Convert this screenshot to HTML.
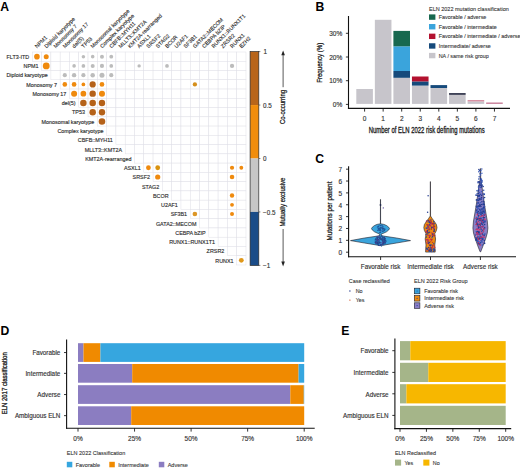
<!DOCTYPE html>
<html><head><meta charset="utf-8"><style>
html,body{margin:0;padding:0;background:#fff;}
body{width:520px;height:468px;overflow:hidden;}
svg{display:block;font-family:"Liberation Sans", sans-serif;}
</style></head><body>
<svg width="520" height="468" viewBox="0 0 520 468">
<rect width="520" height="468" fill="#fff"/>
<text x="0.20" y="10.60" font-size="12.2" text-anchor="start" font-weight="bold" fill="#000">A</text>
<text x="315.50" y="10.70" font-size="12.2" text-anchor="start" font-weight="bold" fill="#000">B</text>
<text x="315.20" y="162.50" font-size="12.2" text-anchor="start" font-weight="bold" fill="#000">C</text>
<text x="0.50" y="334.60" font-size="12.2" text-anchor="start" font-weight="bold" fill="#000">D</text>
<text x="341.30" y="334.80" font-size="12.2" text-anchor="start" font-weight="bold" fill="#000">E</text>
<rect x="32.30" y="52.00" width="9.29" height="9.26" fill="#fff" stroke="#e0e0e7" stroke-width="0.5"/>
<rect x="41.59" y="52.00" width="9.29" height="9.26" fill="#fff" stroke="#e0e0e7" stroke-width="0.5"/>
<rect x="50.88" y="52.00" width="9.29" height="9.26" fill="#fff" stroke="#e0e0e7" stroke-width="0.5"/>
<rect x="60.17" y="52.00" width="9.29" height="9.26" fill="#fff" stroke="#e0e0e7" stroke-width="0.5"/>
<rect x="69.46" y="52.00" width="9.29" height="9.26" fill="#fff" stroke="#e0e0e7" stroke-width="0.5"/>
<rect x="78.75" y="52.00" width="9.29" height="9.26" fill="#fff" stroke="#e0e0e7" stroke-width="0.5"/>
<rect x="88.04" y="52.00" width="9.29" height="9.26" fill="#fff" stroke="#e0e0e7" stroke-width="0.5"/>
<rect x="97.33" y="52.00" width="9.29" height="9.26" fill="#fff" stroke="#e0e0e7" stroke-width="0.5"/>
<rect x="106.62" y="52.00" width="9.29" height="9.26" fill="#fff" stroke="#e0e0e7" stroke-width="0.5"/>
<rect x="115.91" y="52.00" width="9.29" height="9.26" fill="#fff" stroke="#e0e0e7" stroke-width="0.5"/>
<rect x="125.20" y="52.00" width="9.29" height="9.26" fill="#fff" stroke="#e0e0e7" stroke-width="0.5"/>
<rect x="134.49" y="52.00" width="9.29" height="9.26" fill="#fff" stroke="#e0e0e7" stroke-width="0.5"/>
<rect x="143.78" y="52.00" width="9.29" height="9.26" fill="#fff" stroke="#e0e0e7" stroke-width="0.5"/>
<rect x="153.07" y="52.00" width="9.29" height="9.26" fill="#fff" stroke="#e0e0e7" stroke-width="0.5"/>
<rect x="162.36" y="52.00" width="9.29" height="9.26" fill="#fff" stroke="#e0e0e7" stroke-width="0.5"/>
<rect x="171.65" y="52.00" width="9.29" height="9.26" fill="#fff" stroke="#e0e0e7" stroke-width="0.5"/>
<rect x="180.94" y="52.00" width="9.29" height="9.26" fill="#fff" stroke="#e0e0e7" stroke-width="0.5"/>
<rect x="190.23" y="52.00" width="9.29" height="9.26" fill="#fff" stroke="#e0e0e7" stroke-width="0.5"/>
<rect x="199.52" y="52.00" width="9.29" height="9.26" fill="#fff" stroke="#e0e0e7" stroke-width="0.5"/>
<rect x="208.81" y="52.00" width="9.29" height="9.26" fill="#fff" stroke="#e0e0e7" stroke-width="0.5"/>
<rect x="218.10" y="52.00" width="9.29" height="9.26" fill="#fff" stroke="#e0e0e7" stroke-width="0.5"/>
<rect x="227.39" y="52.00" width="9.29" height="9.26" fill="#fff" stroke="#e0e0e7" stroke-width="0.5"/>
<rect x="236.68" y="52.00" width="9.29" height="9.26" fill="#fff" stroke="#e0e0e7" stroke-width="0.5"/>
<rect x="41.59" y="61.26" width="9.29" height="9.26" fill="#fff" stroke="#e0e0e7" stroke-width="0.5"/>
<rect x="50.88" y="61.26" width="9.29" height="9.26" fill="#fff" stroke="#e0e0e7" stroke-width="0.5"/>
<rect x="60.17" y="61.26" width="9.29" height="9.26" fill="#fff" stroke="#e0e0e7" stroke-width="0.5"/>
<rect x="69.46" y="61.26" width="9.29" height="9.26" fill="#fff" stroke="#e0e0e7" stroke-width="0.5"/>
<rect x="78.75" y="61.26" width="9.29" height="9.26" fill="#fff" stroke="#e0e0e7" stroke-width="0.5"/>
<rect x="88.04" y="61.26" width="9.29" height="9.26" fill="#fff" stroke="#e0e0e7" stroke-width="0.5"/>
<rect x="97.33" y="61.26" width="9.29" height="9.26" fill="#fff" stroke="#e0e0e7" stroke-width="0.5"/>
<rect x="106.62" y="61.26" width="9.29" height="9.26" fill="#fff" stroke="#e0e0e7" stroke-width="0.5"/>
<rect x="115.91" y="61.26" width="9.29" height="9.26" fill="#fff" stroke="#e0e0e7" stroke-width="0.5"/>
<rect x="125.20" y="61.26" width="9.29" height="9.26" fill="#fff" stroke="#e0e0e7" stroke-width="0.5"/>
<rect x="134.49" y="61.26" width="9.29" height="9.26" fill="#fff" stroke="#e0e0e7" stroke-width="0.5"/>
<rect x="143.78" y="61.26" width="9.29" height="9.26" fill="#fff" stroke="#e0e0e7" stroke-width="0.5"/>
<rect x="153.07" y="61.26" width="9.29" height="9.26" fill="#fff" stroke="#e0e0e7" stroke-width="0.5"/>
<rect x="162.36" y="61.26" width="9.29" height="9.26" fill="#fff" stroke="#e0e0e7" stroke-width="0.5"/>
<rect x="171.65" y="61.26" width="9.29" height="9.26" fill="#fff" stroke="#e0e0e7" stroke-width="0.5"/>
<rect x="180.94" y="61.26" width="9.29" height="9.26" fill="#fff" stroke="#e0e0e7" stroke-width="0.5"/>
<rect x="190.23" y="61.26" width="9.29" height="9.26" fill="#fff" stroke="#e0e0e7" stroke-width="0.5"/>
<rect x="199.52" y="61.26" width="9.29" height="9.26" fill="#fff" stroke="#e0e0e7" stroke-width="0.5"/>
<rect x="208.81" y="61.26" width="9.29" height="9.26" fill="#fff" stroke="#e0e0e7" stroke-width="0.5"/>
<rect x="218.10" y="61.26" width="9.29" height="9.26" fill="#fff" stroke="#e0e0e7" stroke-width="0.5"/>
<rect x="227.39" y="61.26" width="9.29" height="9.26" fill="#fff" stroke="#e0e0e7" stroke-width="0.5"/>
<rect x="236.68" y="61.26" width="9.29" height="9.26" fill="#fff" stroke="#e0e0e7" stroke-width="0.5"/>
<rect x="50.88" y="70.52" width="9.29" height="9.26" fill="#fff" stroke="#e0e0e7" stroke-width="0.5"/>
<rect x="60.17" y="70.52" width="9.29" height="9.26" fill="#fff" stroke="#e0e0e7" stroke-width="0.5"/>
<rect x="69.46" y="70.52" width="9.29" height="9.26" fill="#fff" stroke="#e0e0e7" stroke-width="0.5"/>
<rect x="78.75" y="70.52" width="9.29" height="9.26" fill="#fff" stroke="#e0e0e7" stroke-width="0.5"/>
<rect x="88.04" y="70.52" width="9.29" height="9.26" fill="#fff" stroke="#e0e0e7" stroke-width="0.5"/>
<rect x="97.33" y="70.52" width="9.29" height="9.26" fill="#fff" stroke="#e0e0e7" stroke-width="0.5"/>
<rect x="106.62" y="70.52" width="9.29" height="9.26" fill="#fff" stroke="#e0e0e7" stroke-width="0.5"/>
<rect x="115.91" y="70.52" width="9.29" height="9.26" fill="#fff" stroke="#e0e0e7" stroke-width="0.5"/>
<rect x="125.20" y="70.52" width="9.29" height="9.26" fill="#fff" stroke="#e0e0e7" stroke-width="0.5"/>
<rect x="134.49" y="70.52" width="9.29" height="9.26" fill="#fff" stroke="#e0e0e7" stroke-width="0.5"/>
<rect x="143.78" y="70.52" width="9.29" height="9.26" fill="#fff" stroke="#e0e0e7" stroke-width="0.5"/>
<rect x="153.07" y="70.52" width="9.29" height="9.26" fill="#fff" stroke="#e0e0e7" stroke-width="0.5"/>
<rect x="162.36" y="70.52" width="9.29" height="9.26" fill="#fff" stroke="#e0e0e7" stroke-width="0.5"/>
<rect x="171.65" y="70.52" width="9.29" height="9.26" fill="#fff" stroke="#e0e0e7" stroke-width="0.5"/>
<rect x="180.94" y="70.52" width="9.29" height="9.26" fill="#fff" stroke="#e0e0e7" stroke-width="0.5"/>
<rect x="190.23" y="70.52" width="9.29" height="9.26" fill="#fff" stroke="#e0e0e7" stroke-width="0.5"/>
<rect x="199.52" y="70.52" width="9.29" height="9.26" fill="#fff" stroke="#e0e0e7" stroke-width="0.5"/>
<rect x="208.81" y="70.52" width="9.29" height="9.26" fill="#fff" stroke="#e0e0e7" stroke-width="0.5"/>
<rect x="218.10" y="70.52" width="9.29" height="9.26" fill="#fff" stroke="#e0e0e7" stroke-width="0.5"/>
<rect x="227.39" y="70.52" width="9.29" height="9.26" fill="#fff" stroke="#e0e0e7" stroke-width="0.5"/>
<rect x="236.68" y="70.52" width="9.29" height="9.26" fill="#fff" stroke="#e0e0e7" stroke-width="0.5"/>
<rect x="60.17" y="79.78" width="9.29" height="9.26" fill="#fff" stroke="#e0e0e7" stroke-width="0.5"/>
<rect x="69.46" y="79.78" width="9.29" height="9.26" fill="#fff" stroke="#e0e0e7" stroke-width="0.5"/>
<rect x="78.75" y="79.78" width="9.29" height="9.26" fill="#fff" stroke="#e0e0e7" stroke-width="0.5"/>
<rect x="88.04" y="79.78" width="9.29" height="9.26" fill="#fff" stroke="#e0e0e7" stroke-width="0.5"/>
<rect x="97.33" y="79.78" width="9.29" height="9.26" fill="#fff" stroke="#e0e0e7" stroke-width="0.5"/>
<rect x="106.62" y="79.78" width="9.29" height="9.26" fill="#fff" stroke="#e0e0e7" stroke-width="0.5"/>
<rect x="115.91" y="79.78" width="9.29" height="9.26" fill="#fff" stroke="#e0e0e7" stroke-width="0.5"/>
<rect x="125.20" y="79.78" width="9.29" height="9.26" fill="#fff" stroke="#e0e0e7" stroke-width="0.5"/>
<rect x="134.49" y="79.78" width="9.29" height="9.26" fill="#fff" stroke="#e0e0e7" stroke-width="0.5"/>
<rect x="143.78" y="79.78" width="9.29" height="9.26" fill="#fff" stroke="#e0e0e7" stroke-width="0.5"/>
<rect x="153.07" y="79.78" width="9.29" height="9.26" fill="#fff" stroke="#e0e0e7" stroke-width="0.5"/>
<rect x="162.36" y="79.78" width="9.29" height="9.26" fill="#fff" stroke="#e0e0e7" stroke-width="0.5"/>
<rect x="171.65" y="79.78" width="9.29" height="9.26" fill="#fff" stroke="#e0e0e7" stroke-width="0.5"/>
<rect x="180.94" y="79.78" width="9.29" height="9.26" fill="#fff" stroke="#e0e0e7" stroke-width="0.5"/>
<rect x="190.23" y="79.78" width="9.29" height="9.26" fill="#fff" stroke="#e0e0e7" stroke-width="0.5"/>
<rect x="199.52" y="79.78" width="9.29" height="9.26" fill="#fff" stroke="#e0e0e7" stroke-width="0.5"/>
<rect x="208.81" y="79.78" width="9.29" height="9.26" fill="#fff" stroke="#e0e0e7" stroke-width="0.5"/>
<rect x="218.10" y="79.78" width="9.29" height="9.26" fill="#fff" stroke="#e0e0e7" stroke-width="0.5"/>
<rect x="227.39" y="79.78" width="9.29" height="9.26" fill="#fff" stroke="#e0e0e7" stroke-width="0.5"/>
<rect x="236.68" y="79.78" width="9.29" height="9.26" fill="#fff" stroke="#e0e0e7" stroke-width="0.5"/>
<rect x="69.46" y="89.04" width="9.29" height="9.26" fill="#fff" stroke="#e0e0e7" stroke-width="0.5"/>
<rect x="78.75" y="89.04" width="9.29" height="9.26" fill="#fff" stroke="#e0e0e7" stroke-width="0.5"/>
<rect x="88.04" y="89.04" width="9.29" height="9.26" fill="#fff" stroke="#e0e0e7" stroke-width="0.5"/>
<rect x="97.33" y="89.04" width="9.29" height="9.26" fill="#fff" stroke="#e0e0e7" stroke-width="0.5"/>
<rect x="106.62" y="89.04" width="9.29" height="9.26" fill="#fff" stroke="#e0e0e7" stroke-width="0.5"/>
<rect x="115.91" y="89.04" width="9.29" height="9.26" fill="#fff" stroke="#e0e0e7" stroke-width="0.5"/>
<rect x="125.20" y="89.04" width="9.29" height="9.26" fill="#fff" stroke="#e0e0e7" stroke-width="0.5"/>
<rect x="134.49" y="89.04" width="9.29" height="9.26" fill="#fff" stroke="#e0e0e7" stroke-width="0.5"/>
<rect x="143.78" y="89.04" width="9.29" height="9.26" fill="#fff" stroke="#e0e0e7" stroke-width="0.5"/>
<rect x="153.07" y="89.04" width="9.29" height="9.26" fill="#fff" stroke="#e0e0e7" stroke-width="0.5"/>
<rect x="162.36" y="89.04" width="9.29" height="9.26" fill="#fff" stroke="#e0e0e7" stroke-width="0.5"/>
<rect x="171.65" y="89.04" width="9.29" height="9.26" fill="#fff" stroke="#e0e0e7" stroke-width="0.5"/>
<rect x="180.94" y="89.04" width="9.29" height="9.26" fill="#fff" stroke="#e0e0e7" stroke-width="0.5"/>
<rect x="190.23" y="89.04" width="9.29" height="9.26" fill="#fff" stroke="#e0e0e7" stroke-width="0.5"/>
<rect x="199.52" y="89.04" width="9.29" height="9.26" fill="#fff" stroke="#e0e0e7" stroke-width="0.5"/>
<rect x="208.81" y="89.04" width="9.29" height="9.26" fill="#fff" stroke="#e0e0e7" stroke-width="0.5"/>
<rect x="218.10" y="89.04" width="9.29" height="9.26" fill="#fff" stroke="#e0e0e7" stroke-width="0.5"/>
<rect x="227.39" y="89.04" width="9.29" height="9.26" fill="#fff" stroke="#e0e0e7" stroke-width="0.5"/>
<rect x="236.68" y="89.04" width="9.29" height="9.26" fill="#fff" stroke="#e0e0e7" stroke-width="0.5"/>
<rect x="78.75" y="98.30" width="9.29" height="9.26" fill="#fff" stroke="#e0e0e7" stroke-width="0.5"/>
<rect x="88.04" y="98.30" width="9.29" height="9.26" fill="#fff" stroke="#e0e0e7" stroke-width="0.5"/>
<rect x="97.33" y="98.30" width="9.29" height="9.26" fill="#fff" stroke="#e0e0e7" stroke-width="0.5"/>
<rect x="106.62" y="98.30" width="9.29" height="9.26" fill="#fff" stroke="#e0e0e7" stroke-width="0.5"/>
<rect x="115.91" y="98.30" width="9.29" height="9.26" fill="#fff" stroke="#e0e0e7" stroke-width="0.5"/>
<rect x="125.20" y="98.30" width="9.29" height="9.26" fill="#fff" stroke="#e0e0e7" stroke-width="0.5"/>
<rect x="134.49" y="98.30" width="9.29" height="9.26" fill="#fff" stroke="#e0e0e7" stroke-width="0.5"/>
<rect x="143.78" y="98.30" width="9.29" height="9.26" fill="#fff" stroke="#e0e0e7" stroke-width="0.5"/>
<rect x="153.07" y="98.30" width="9.29" height="9.26" fill="#fff" stroke="#e0e0e7" stroke-width="0.5"/>
<rect x="162.36" y="98.30" width="9.29" height="9.26" fill="#fff" stroke="#e0e0e7" stroke-width="0.5"/>
<rect x="171.65" y="98.30" width="9.29" height="9.26" fill="#fff" stroke="#e0e0e7" stroke-width="0.5"/>
<rect x="180.94" y="98.30" width="9.29" height="9.26" fill="#fff" stroke="#e0e0e7" stroke-width="0.5"/>
<rect x="190.23" y="98.30" width="9.29" height="9.26" fill="#fff" stroke="#e0e0e7" stroke-width="0.5"/>
<rect x="199.52" y="98.30" width="9.29" height="9.26" fill="#fff" stroke="#e0e0e7" stroke-width="0.5"/>
<rect x="208.81" y="98.30" width="9.29" height="9.26" fill="#fff" stroke="#e0e0e7" stroke-width="0.5"/>
<rect x="218.10" y="98.30" width="9.29" height="9.26" fill="#fff" stroke="#e0e0e7" stroke-width="0.5"/>
<rect x="227.39" y="98.30" width="9.29" height="9.26" fill="#fff" stroke="#e0e0e7" stroke-width="0.5"/>
<rect x="236.68" y="98.30" width="9.29" height="9.26" fill="#fff" stroke="#e0e0e7" stroke-width="0.5"/>
<rect x="88.04" y="107.56" width="9.29" height="9.26" fill="#fff" stroke="#e0e0e7" stroke-width="0.5"/>
<rect x="97.33" y="107.56" width="9.29" height="9.26" fill="#fff" stroke="#e0e0e7" stroke-width="0.5"/>
<rect x="106.62" y="107.56" width="9.29" height="9.26" fill="#fff" stroke="#e0e0e7" stroke-width="0.5"/>
<rect x="115.91" y="107.56" width="9.29" height="9.26" fill="#fff" stroke="#e0e0e7" stroke-width="0.5"/>
<rect x="125.20" y="107.56" width="9.29" height="9.26" fill="#fff" stroke="#e0e0e7" stroke-width="0.5"/>
<rect x="134.49" y="107.56" width="9.29" height="9.26" fill="#fff" stroke="#e0e0e7" stroke-width="0.5"/>
<rect x="143.78" y="107.56" width="9.29" height="9.26" fill="#fff" stroke="#e0e0e7" stroke-width="0.5"/>
<rect x="153.07" y="107.56" width="9.29" height="9.26" fill="#fff" stroke="#e0e0e7" stroke-width="0.5"/>
<rect x="162.36" y="107.56" width="9.29" height="9.26" fill="#fff" stroke="#e0e0e7" stroke-width="0.5"/>
<rect x="171.65" y="107.56" width="9.29" height="9.26" fill="#fff" stroke="#e0e0e7" stroke-width="0.5"/>
<rect x="180.94" y="107.56" width="9.29" height="9.26" fill="#fff" stroke="#e0e0e7" stroke-width="0.5"/>
<rect x="190.23" y="107.56" width="9.29" height="9.26" fill="#fff" stroke="#e0e0e7" stroke-width="0.5"/>
<rect x="199.52" y="107.56" width="9.29" height="9.26" fill="#fff" stroke="#e0e0e7" stroke-width="0.5"/>
<rect x="208.81" y="107.56" width="9.29" height="9.26" fill="#fff" stroke="#e0e0e7" stroke-width="0.5"/>
<rect x="218.10" y="107.56" width="9.29" height="9.26" fill="#fff" stroke="#e0e0e7" stroke-width="0.5"/>
<rect x="227.39" y="107.56" width="9.29" height="9.26" fill="#fff" stroke="#e0e0e7" stroke-width="0.5"/>
<rect x="236.68" y="107.56" width="9.29" height="9.26" fill="#fff" stroke="#e0e0e7" stroke-width="0.5"/>
<rect x="97.33" y="116.82" width="9.29" height="9.26" fill="#fff" stroke="#e0e0e7" stroke-width="0.5"/>
<rect x="106.62" y="116.82" width="9.29" height="9.26" fill="#fff" stroke="#e0e0e7" stroke-width="0.5"/>
<rect x="115.91" y="116.82" width="9.29" height="9.26" fill="#fff" stroke="#e0e0e7" stroke-width="0.5"/>
<rect x="125.20" y="116.82" width="9.29" height="9.26" fill="#fff" stroke="#e0e0e7" stroke-width="0.5"/>
<rect x="134.49" y="116.82" width="9.29" height="9.26" fill="#fff" stroke="#e0e0e7" stroke-width="0.5"/>
<rect x="143.78" y="116.82" width="9.29" height="9.26" fill="#fff" stroke="#e0e0e7" stroke-width="0.5"/>
<rect x="153.07" y="116.82" width="9.29" height="9.26" fill="#fff" stroke="#e0e0e7" stroke-width="0.5"/>
<rect x="162.36" y="116.82" width="9.29" height="9.26" fill="#fff" stroke="#e0e0e7" stroke-width="0.5"/>
<rect x="171.65" y="116.82" width="9.29" height="9.26" fill="#fff" stroke="#e0e0e7" stroke-width="0.5"/>
<rect x="180.94" y="116.82" width="9.29" height="9.26" fill="#fff" stroke="#e0e0e7" stroke-width="0.5"/>
<rect x="190.23" y="116.82" width="9.29" height="9.26" fill="#fff" stroke="#e0e0e7" stroke-width="0.5"/>
<rect x="199.52" y="116.82" width="9.29" height="9.26" fill="#fff" stroke="#e0e0e7" stroke-width="0.5"/>
<rect x="208.81" y="116.82" width="9.29" height="9.26" fill="#fff" stroke="#e0e0e7" stroke-width="0.5"/>
<rect x="218.10" y="116.82" width="9.29" height="9.26" fill="#fff" stroke="#e0e0e7" stroke-width="0.5"/>
<rect x="227.39" y="116.82" width="9.29" height="9.26" fill="#fff" stroke="#e0e0e7" stroke-width="0.5"/>
<rect x="236.68" y="116.82" width="9.29" height="9.26" fill="#fff" stroke="#e0e0e7" stroke-width="0.5"/>
<rect x="106.62" y="126.08" width="9.29" height="9.26" fill="#fff" stroke="#e0e0e7" stroke-width="0.5"/>
<rect x="115.91" y="126.08" width="9.29" height="9.26" fill="#fff" stroke="#e0e0e7" stroke-width="0.5"/>
<rect x="125.20" y="126.08" width="9.29" height="9.26" fill="#fff" stroke="#e0e0e7" stroke-width="0.5"/>
<rect x="134.49" y="126.08" width="9.29" height="9.26" fill="#fff" stroke="#e0e0e7" stroke-width="0.5"/>
<rect x="143.78" y="126.08" width="9.29" height="9.26" fill="#fff" stroke="#e0e0e7" stroke-width="0.5"/>
<rect x="153.07" y="126.08" width="9.29" height="9.26" fill="#fff" stroke="#e0e0e7" stroke-width="0.5"/>
<rect x="162.36" y="126.08" width="9.29" height="9.26" fill="#fff" stroke="#e0e0e7" stroke-width="0.5"/>
<rect x="171.65" y="126.08" width="9.29" height="9.26" fill="#fff" stroke="#e0e0e7" stroke-width="0.5"/>
<rect x="180.94" y="126.08" width="9.29" height="9.26" fill="#fff" stroke="#e0e0e7" stroke-width="0.5"/>
<rect x="190.23" y="126.08" width="9.29" height="9.26" fill="#fff" stroke="#e0e0e7" stroke-width="0.5"/>
<rect x="199.52" y="126.08" width="9.29" height="9.26" fill="#fff" stroke="#e0e0e7" stroke-width="0.5"/>
<rect x="208.81" y="126.08" width="9.29" height="9.26" fill="#fff" stroke="#e0e0e7" stroke-width="0.5"/>
<rect x="218.10" y="126.08" width="9.29" height="9.26" fill="#fff" stroke="#e0e0e7" stroke-width="0.5"/>
<rect x="227.39" y="126.08" width="9.29" height="9.26" fill="#fff" stroke="#e0e0e7" stroke-width="0.5"/>
<rect x="236.68" y="126.08" width="9.29" height="9.26" fill="#fff" stroke="#e0e0e7" stroke-width="0.5"/>
<rect x="115.91" y="135.34" width="9.29" height="9.26" fill="#fff" stroke="#e0e0e7" stroke-width="0.5"/>
<rect x="125.20" y="135.34" width="9.29" height="9.26" fill="#fff" stroke="#e0e0e7" stroke-width="0.5"/>
<rect x="134.49" y="135.34" width="9.29" height="9.26" fill="#fff" stroke="#e0e0e7" stroke-width="0.5"/>
<rect x="143.78" y="135.34" width="9.29" height="9.26" fill="#fff" stroke="#e0e0e7" stroke-width="0.5"/>
<rect x="153.07" y="135.34" width="9.29" height="9.26" fill="#fff" stroke="#e0e0e7" stroke-width="0.5"/>
<rect x="162.36" y="135.34" width="9.29" height="9.26" fill="#fff" stroke="#e0e0e7" stroke-width="0.5"/>
<rect x="171.65" y="135.34" width="9.29" height="9.26" fill="#fff" stroke="#e0e0e7" stroke-width="0.5"/>
<rect x="180.94" y="135.34" width="9.29" height="9.26" fill="#fff" stroke="#e0e0e7" stroke-width="0.5"/>
<rect x="190.23" y="135.34" width="9.29" height="9.26" fill="#fff" stroke="#e0e0e7" stroke-width="0.5"/>
<rect x="199.52" y="135.34" width="9.29" height="9.26" fill="#fff" stroke="#e0e0e7" stroke-width="0.5"/>
<rect x="208.81" y="135.34" width="9.29" height="9.26" fill="#fff" stroke="#e0e0e7" stroke-width="0.5"/>
<rect x="218.10" y="135.34" width="9.29" height="9.26" fill="#fff" stroke="#e0e0e7" stroke-width="0.5"/>
<rect x="227.39" y="135.34" width="9.29" height="9.26" fill="#fff" stroke="#e0e0e7" stroke-width="0.5"/>
<rect x="236.68" y="135.34" width="9.29" height="9.26" fill="#fff" stroke="#e0e0e7" stroke-width="0.5"/>
<rect x="125.20" y="144.60" width="9.29" height="9.26" fill="#fff" stroke="#e0e0e7" stroke-width="0.5"/>
<rect x="134.49" y="144.60" width="9.29" height="9.26" fill="#fff" stroke="#e0e0e7" stroke-width="0.5"/>
<rect x="143.78" y="144.60" width="9.29" height="9.26" fill="#fff" stroke="#e0e0e7" stroke-width="0.5"/>
<rect x="153.07" y="144.60" width="9.29" height="9.26" fill="#fff" stroke="#e0e0e7" stroke-width="0.5"/>
<rect x="162.36" y="144.60" width="9.29" height="9.26" fill="#fff" stroke="#e0e0e7" stroke-width="0.5"/>
<rect x="171.65" y="144.60" width="9.29" height="9.26" fill="#fff" stroke="#e0e0e7" stroke-width="0.5"/>
<rect x="180.94" y="144.60" width="9.29" height="9.26" fill="#fff" stroke="#e0e0e7" stroke-width="0.5"/>
<rect x="190.23" y="144.60" width="9.29" height="9.26" fill="#fff" stroke="#e0e0e7" stroke-width="0.5"/>
<rect x="199.52" y="144.60" width="9.29" height="9.26" fill="#fff" stroke="#e0e0e7" stroke-width="0.5"/>
<rect x="208.81" y="144.60" width="9.29" height="9.26" fill="#fff" stroke="#e0e0e7" stroke-width="0.5"/>
<rect x="218.10" y="144.60" width="9.29" height="9.26" fill="#fff" stroke="#e0e0e7" stroke-width="0.5"/>
<rect x="227.39" y="144.60" width="9.29" height="9.26" fill="#fff" stroke="#e0e0e7" stroke-width="0.5"/>
<rect x="236.68" y="144.60" width="9.29" height="9.26" fill="#fff" stroke="#e0e0e7" stroke-width="0.5"/>
<rect x="134.49" y="153.86" width="9.29" height="9.26" fill="#fff" stroke="#e0e0e7" stroke-width="0.5"/>
<rect x="143.78" y="153.86" width="9.29" height="9.26" fill="#fff" stroke="#e0e0e7" stroke-width="0.5"/>
<rect x="153.07" y="153.86" width="9.29" height="9.26" fill="#fff" stroke="#e0e0e7" stroke-width="0.5"/>
<rect x="162.36" y="153.86" width="9.29" height="9.26" fill="#fff" stroke="#e0e0e7" stroke-width="0.5"/>
<rect x="171.65" y="153.86" width="9.29" height="9.26" fill="#fff" stroke="#e0e0e7" stroke-width="0.5"/>
<rect x="180.94" y="153.86" width="9.29" height="9.26" fill="#fff" stroke="#e0e0e7" stroke-width="0.5"/>
<rect x="190.23" y="153.86" width="9.29" height="9.26" fill="#fff" stroke="#e0e0e7" stroke-width="0.5"/>
<rect x="199.52" y="153.86" width="9.29" height="9.26" fill="#fff" stroke="#e0e0e7" stroke-width="0.5"/>
<rect x="208.81" y="153.86" width="9.29" height="9.26" fill="#fff" stroke="#e0e0e7" stroke-width="0.5"/>
<rect x="218.10" y="153.86" width="9.29" height="9.26" fill="#fff" stroke="#e0e0e7" stroke-width="0.5"/>
<rect x="227.39" y="153.86" width="9.29" height="9.26" fill="#fff" stroke="#e0e0e7" stroke-width="0.5"/>
<rect x="236.68" y="153.86" width="9.29" height="9.26" fill="#fff" stroke="#e0e0e7" stroke-width="0.5"/>
<rect x="143.78" y="163.12" width="9.29" height="9.26" fill="#fff" stroke="#e0e0e7" stroke-width="0.5"/>
<rect x="153.07" y="163.12" width="9.29" height="9.26" fill="#fff" stroke="#e0e0e7" stroke-width="0.5"/>
<rect x="162.36" y="163.12" width="9.29" height="9.26" fill="#fff" stroke="#e0e0e7" stroke-width="0.5"/>
<rect x="171.65" y="163.12" width="9.29" height="9.26" fill="#fff" stroke="#e0e0e7" stroke-width="0.5"/>
<rect x="180.94" y="163.12" width="9.29" height="9.26" fill="#fff" stroke="#e0e0e7" stroke-width="0.5"/>
<rect x="190.23" y="163.12" width="9.29" height="9.26" fill="#fff" stroke="#e0e0e7" stroke-width="0.5"/>
<rect x="199.52" y="163.12" width="9.29" height="9.26" fill="#fff" stroke="#e0e0e7" stroke-width="0.5"/>
<rect x="208.81" y="163.12" width="9.29" height="9.26" fill="#fff" stroke="#e0e0e7" stroke-width="0.5"/>
<rect x="218.10" y="163.12" width="9.29" height="9.26" fill="#fff" stroke="#e0e0e7" stroke-width="0.5"/>
<rect x="227.39" y="163.12" width="9.29" height="9.26" fill="#fff" stroke="#e0e0e7" stroke-width="0.5"/>
<rect x="236.68" y="163.12" width="9.29" height="9.26" fill="#fff" stroke="#e0e0e7" stroke-width="0.5"/>
<rect x="153.07" y="172.38" width="9.29" height="9.26" fill="#fff" stroke="#e0e0e7" stroke-width="0.5"/>
<rect x="162.36" y="172.38" width="9.29" height="9.26" fill="#fff" stroke="#e0e0e7" stroke-width="0.5"/>
<rect x="171.65" y="172.38" width="9.29" height="9.26" fill="#fff" stroke="#e0e0e7" stroke-width="0.5"/>
<rect x="180.94" y="172.38" width="9.29" height="9.26" fill="#fff" stroke="#e0e0e7" stroke-width="0.5"/>
<rect x="190.23" y="172.38" width="9.29" height="9.26" fill="#fff" stroke="#e0e0e7" stroke-width="0.5"/>
<rect x="199.52" y="172.38" width="9.29" height="9.26" fill="#fff" stroke="#e0e0e7" stroke-width="0.5"/>
<rect x="208.81" y="172.38" width="9.29" height="9.26" fill="#fff" stroke="#e0e0e7" stroke-width="0.5"/>
<rect x="218.10" y="172.38" width="9.29" height="9.26" fill="#fff" stroke="#e0e0e7" stroke-width="0.5"/>
<rect x="227.39" y="172.38" width="9.29" height="9.26" fill="#fff" stroke="#e0e0e7" stroke-width="0.5"/>
<rect x="236.68" y="172.38" width="9.29" height="9.26" fill="#fff" stroke="#e0e0e7" stroke-width="0.5"/>
<rect x="162.36" y="181.64" width="9.29" height="9.26" fill="#fff" stroke="#e0e0e7" stroke-width="0.5"/>
<rect x="171.65" y="181.64" width="9.29" height="9.26" fill="#fff" stroke="#e0e0e7" stroke-width="0.5"/>
<rect x="180.94" y="181.64" width="9.29" height="9.26" fill="#fff" stroke="#e0e0e7" stroke-width="0.5"/>
<rect x="190.23" y="181.64" width="9.29" height="9.26" fill="#fff" stroke="#e0e0e7" stroke-width="0.5"/>
<rect x="199.52" y="181.64" width="9.29" height="9.26" fill="#fff" stroke="#e0e0e7" stroke-width="0.5"/>
<rect x="208.81" y="181.64" width="9.29" height="9.26" fill="#fff" stroke="#e0e0e7" stroke-width="0.5"/>
<rect x="218.10" y="181.64" width="9.29" height="9.26" fill="#fff" stroke="#e0e0e7" stroke-width="0.5"/>
<rect x="227.39" y="181.64" width="9.29" height="9.26" fill="#fff" stroke="#e0e0e7" stroke-width="0.5"/>
<rect x="236.68" y="181.64" width="9.29" height="9.26" fill="#fff" stroke="#e0e0e7" stroke-width="0.5"/>
<rect x="171.65" y="190.90" width="9.29" height="9.26" fill="#fff" stroke="#e0e0e7" stroke-width="0.5"/>
<rect x="180.94" y="190.90" width="9.29" height="9.26" fill="#fff" stroke="#e0e0e7" stroke-width="0.5"/>
<rect x="190.23" y="190.90" width="9.29" height="9.26" fill="#fff" stroke="#e0e0e7" stroke-width="0.5"/>
<rect x="199.52" y="190.90" width="9.29" height="9.26" fill="#fff" stroke="#e0e0e7" stroke-width="0.5"/>
<rect x="208.81" y="190.90" width="9.29" height="9.26" fill="#fff" stroke="#e0e0e7" stroke-width="0.5"/>
<rect x="218.10" y="190.90" width="9.29" height="9.26" fill="#fff" stroke="#e0e0e7" stroke-width="0.5"/>
<rect x="227.39" y="190.90" width="9.29" height="9.26" fill="#fff" stroke="#e0e0e7" stroke-width="0.5"/>
<rect x="236.68" y="190.90" width="9.29" height="9.26" fill="#fff" stroke="#e0e0e7" stroke-width="0.5"/>
<rect x="180.94" y="200.16" width="9.29" height="9.26" fill="#fff" stroke="#e0e0e7" stroke-width="0.5"/>
<rect x="190.23" y="200.16" width="9.29" height="9.26" fill="#fff" stroke="#e0e0e7" stroke-width="0.5"/>
<rect x="199.52" y="200.16" width="9.29" height="9.26" fill="#fff" stroke="#e0e0e7" stroke-width="0.5"/>
<rect x="208.81" y="200.16" width="9.29" height="9.26" fill="#fff" stroke="#e0e0e7" stroke-width="0.5"/>
<rect x="218.10" y="200.16" width="9.29" height="9.26" fill="#fff" stroke="#e0e0e7" stroke-width="0.5"/>
<rect x="227.39" y="200.16" width="9.29" height="9.26" fill="#fff" stroke="#e0e0e7" stroke-width="0.5"/>
<rect x="236.68" y="200.16" width="9.29" height="9.26" fill="#fff" stroke="#e0e0e7" stroke-width="0.5"/>
<rect x="190.23" y="209.42" width="9.29" height="9.26" fill="#fff" stroke="#e0e0e7" stroke-width="0.5"/>
<rect x="199.52" y="209.42" width="9.29" height="9.26" fill="#fff" stroke="#e0e0e7" stroke-width="0.5"/>
<rect x="208.81" y="209.42" width="9.29" height="9.26" fill="#fff" stroke="#e0e0e7" stroke-width="0.5"/>
<rect x="218.10" y="209.42" width="9.29" height="9.26" fill="#fff" stroke="#e0e0e7" stroke-width="0.5"/>
<rect x="227.39" y="209.42" width="9.29" height="9.26" fill="#fff" stroke="#e0e0e7" stroke-width="0.5"/>
<rect x="236.68" y="209.42" width="9.29" height="9.26" fill="#fff" stroke="#e0e0e7" stroke-width="0.5"/>
<rect x="199.52" y="218.68" width="9.29" height="9.26" fill="#fff" stroke="#e0e0e7" stroke-width="0.5"/>
<rect x="208.81" y="218.68" width="9.29" height="9.26" fill="#fff" stroke="#e0e0e7" stroke-width="0.5"/>
<rect x="218.10" y="218.68" width="9.29" height="9.26" fill="#fff" stroke="#e0e0e7" stroke-width="0.5"/>
<rect x="227.39" y="218.68" width="9.29" height="9.26" fill="#fff" stroke="#e0e0e7" stroke-width="0.5"/>
<rect x="236.68" y="218.68" width="9.29" height="9.26" fill="#fff" stroke="#e0e0e7" stroke-width="0.5"/>
<rect x="208.81" y="227.94" width="9.29" height="9.26" fill="#fff" stroke="#e0e0e7" stroke-width="0.5"/>
<rect x="218.10" y="227.94" width="9.29" height="9.26" fill="#fff" stroke="#e0e0e7" stroke-width="0.5"/>
<rect x="227.39" y="227.94" width="9.29" height="9.26" fill="#fff" stroke="#e0e0e7" stroke-width="0.5"/>
<rect x="236.68" y="227.94" width="9.29" height="9.26" fill="#fff" stroke="#e0e0e7" stroke-width="0.5"/>
<rect x="218.10" y="237.20" width="9.29" height="9.26" fill="#fff" stroke="#e0e0e7" stroke-width="0.5"/>
<rect x="227.39" y="237.20" width="9.29" height="9.26" fill="#fff" stroke="#e0e0e7" stroke-width="0.5"/>
<rect x="236.68" y="237.20" width="9.29" height="9.26" fill="#fff" stroke="#e0e0e7" stroke-width="0.5"/>
<rect x="227.39" y="246.46" width="9.29" height="9.26" fill="#fff" stroke="#e0e0e7" stroke-width="0.5"/>
<rect x="236.68" y="246.46" width="9.29" height="9.26" fill="#fff" stroke="#e0e0e7" stroke-width="0.5"/>
<rect x="236.68" y="255.72" width="9.29" height="9.26" fill="#fff" stroke="#e0e0e7" stroke-width="0.5"/>
<text x="29.20" y="56.93" font-size="5.4" text-anchor="end" font-weight="normal" fill="#2e2e2e" stroke="#2e2e2e" stroke-width="0.14" dominant-baseline="central">FLT3-ITD</text>
<text x="38.49" y="66.19" font-size="5.4" text-anchor="end" font-weight="normal" fill="#2e2e2e" stroke="#2e2e2e" stroke-width="0.14" dominant-baseline="central">NPM1</text>
<text x="47.78" y="75.45" font-size="5.4" text-anchor="end" font-weight="normal" fill="#2e2e2e" stroke="#2e2e2e" stroke-width="0.14" dominant-baseline="central">Diploid karyotype</text>
<text x="57.07" y="84.71" font-size="5.4" text-anchor="end" font-weight="normal" fill="#2e2e2e" stroke="#2e2e2e" stroke-width="0.14" dominant-baseline="central">Monosomy 7</text>
<text x="66.36" y="93.97" font-size="5.4" text-anchor="end" font-weight="normal" fill="#2e2e2e" stroke="#2e2e2e" stroke-width="0.14" dominant-baseline="central">Monosomy 17</text>
<text x="75.65" y="103.23" font-size="5.4" text-anchor="end" font-weight="normal" fill="#2e2e2e" stroke="#2e2e2e" stroke-width="0.14" dominant-baseline="central">del(5)</text>
<text x="84.94" y="112.49" font-size="5.4" text-anchor="end" font-weight="normal" fill="#2e2e2e" stroke="#2e2e2e" stroke-width="0.14" dominant-baseline="central">TP53</text>
<text x="94.23" y="121.75" font-size="5.4" text-anchor="end" font-weight="normal" fill="#2e2e2e" stroke="#2e2e2e" stroke-width="0.14" dominant-baseline="central">Monosomal karyotype</text>
<text x="103.52" y="131.01" font-size="5.4" text-anchor="end" font-weight="normal" fill="#2e2e2e" stroke="#2e2e2e" stroke-width="0.14" dominant-baseline="central">Complex karyotype</text>
<text x="112.81" y="140.27" font-size="5.4" text-anchor="end" font-weight="normal" fill="#2e2e2e" stroke="#2e2e2e" stroke-width="0.14" dominant-baseline="central">CBFB::MYH11</text>
<text x="122.10" y="149.53" font-size="5.4" text-anchor="end" font-weight="normal" fill="#2e2e2e" stroke="#2e2e2e" stroke-width="0.14" dominant-baseline="central">MLLT3::KMT2A</text>
<text x="131.39" y="158.79" font-size="5.4" text-anchor="end" font-weight="normal" fill="#2e2e2e" stroke="#2e2e2e" stroke-width="0.14" dominant-baseline="central">KMT2A-rearranged</text>
<text x="140.68" y="168.05" font-size="5.4" text-anchor="end" font-weight="normal" fill="#2e2e2e" stroke="#2e2e2e" stroke-width="0.14" dominant-baseline="central">ASXL1</text>
<text x="149.97" y="177.31" font-size="5.4" text-anchor="end" font-weight="normal" fill="#2e2e2e" stroke="#2e2e2e" stroke-width="0.14" dominant-baseline="central">SRSF2</text>
<text x="159.26" y="186.57" font-size="5.4" text-anchor="end" font-weight="normal" fill="#2e2e2e" stroke="#2e2e2e" stroke-width="0.14" dominant-baseline="central">STAG2</text>
<text x="168.55" y="195.83" font-size="5.4" text-anchor="end" font-weight="normal" fill="#2e2e2e" stroke="#2e2e2e" stroke-width="0.14" dominant-baseline="central">BCOR</text>
<text x="177.84" y="205.09" font-size="5.4" text-anchor="end" font-weight="normal" fill="#2e2e2e" stroke="#2e2e2e" stroke-width="0.14" dominant-baseline="central">U2AF1</text>
<text x="187.13" y="214.35" font-size="5.4" text-anchor="end" font-weight="normal" fill="#2e2e2e" stroke="#2e2e2e" stroke-width="0.14" dominant-baseline="central">SF3B1</text>
<text x="196.42" y="223.61" font-size="5.4" text-anchor="end" font-weight="normal" fill="#2e2e2e" stroke="#2e2e2e" stroke-width="0.14" dominant-baseline="central">GATA2::MECOM</text>
<text x="205.71" y="232.87" font-size="5.4" text-anchor="end" font-weight="normal" fill="#2e2e2e" stroke="#2e2e2e" stroke-width="0.14" dominant-baseline="central">CEBPA bZIP</text>
<text x="215.00" y="242.13" font-size="5.4" text-anchor="end" font-weight="normal" fill="#2e2e2e" stroke="#2e2e2e" stroke-width="0.14" dominant-baseline="central">RUNX1::RUNX1T1</text>
<text x="224.29" y="251.39" font-size="5.4" text-anchor="end" font-weight="normal" fill="#2e2e2e" stroke="#2e2e2e" stroke-width="0.14" dominant-baseline="central">ZRSR2</text>
<text x="233.58" y="260.65" font-size="5.4" text-anchor="end" font-weight="normal" fill="#2e2e2e" stroke="#2e2e2e" stroke-width="0.14" dominant-baseline="central">RUNX1</text>
<text x="37.14" y="48.40" font-size="5.35" text-anchor="start" font-weight="normal" fill="#2e2e2e" stroke="#2e2e2e" stroke-width="0.14" transform="rotate(-45 37.14 48.40)">NPM1</text>
<text x="46.44" y="48.40" font-size="5.35" text-anchor="start" font-weight="normal" fill="#2e2e2e" stroke="#2e2e2e" stroke-width="0.14" transform="rotate(-45 46.44 48.40)">Diploid karyotype</text>
<text x="55.72" y="48.40" font-size="5.35" text-anchor="start" font-weight="normal" fill="#2e2e2e" stroke="#2e2e2e" stroke-width="0.14" transform="rotate(-45 55.72 48.40)">Monosomy 7</text>
<text x="65.02" y="48.40" font-size="5.35" text-anchor="start" font-weight="normal" fill="#2e2e2e" stroke="#2e2e2e" stroke-width="0.14" transform="rotate(-45 65.02 48.40)">Monosomy 17</text>
<text x="74.30" y="48.40" font-size="5.35" text-anchor="start" font-weight="normal" fill="#2e2e2e" stroke="#2e2e2e" stroke-width="0.14" transform="rotate(-45 74.30 48.40)">del(5)</text>
<text x="83.59" y="48.40" font-size="5.35" text-anchor="start" font-weight="normal" fill="#2e2e2e" stroke="#2e2e2e" stroke-width="0.14" transform="rotate(-45 83.59 48.40)">TP53</text>
<text x="92.88" y="48.40" font-size="5.35" text-anchor="start" font-weight="normal" fill="#2e2e2e" stroke="#2e2e2e" stroke-width="0.14" transform="rotate(-45 92.88 48.40)">Monosomal karyotype</text>
<text x="102.17" y="48.40" font-size="5.35" text-anchor="start" font-weight="normal" fill="#2e2e2e" stroke="#2e2e2e" stroke-width="0.14" transform="rotate(-45 102.17 48.40)">Complex karyotype</text>
<text x="111.46" y="48.40" font-size="5.35" text-anchor="start" font-weight="normal" fill="#2e2e2e" stroke="#2e2e2e" stroke-width="0.14" transform="rotate(-45 111.46 48.40)">CBFB::MYH11</text>
<text x="120.75" y="48.40" font-size="5.35" text-anchor="start" font-weight="normal" fill="#2e2e2e" stroke="#2e2e2e" stroke-width="0.14" transform="rotate(-45 120.75 48.40)">MLLT3::KMT2A</text>
<text x="130.04" y="48.40" font-size="5.35" text-anchor="start" font-weight="normal" fill="#2e2e2e" stroke="#2e2e2e" stroke-width="0.14" transform="rotate(-45 130.04 48.40)">KMT2A-rearranged</text>
<text x="139.33" y="48.40" font-size="5.35" text-anchor="start" font-weight="normal" fill="#2e2e2e" stroke="#2e2e2e" stroke-width="0.14" transform="rotate(-45 139.33 48.40)">ASXL1</text>
<text x="148.62" y="48.40" font-size="5.35" text-anchor="start" font-weight="normal" fill="#2e2e2e" stroke="#2e2e2e" stroke-width="0.14" transform="rotate(-45 148.62 48.40)">SRSF2</text>
<text x="157.91" y="48.40" font-size="5.35" text-anchor="start" font-weight="normal" fill="#2e2e2e" stroke="#2e2e2e" stroke-width="0.14" transform="rotate(-45 157.91 48.40)">STAG2</text>
<text x="167.20" y="48.40" font-size="5.35" text-anchor="start" font-weight="normal" fill="#2e2e2e" stroke="#2e2e2e" stroke-width="0.14" transform="rotate(-45 167.20 48.40)">BCOR</text>
<text x="176.49" y="48.40" font-size="5.35" text-anchor="start" font-weight="normal" fill="#2e2e2e" stroke="#2e2e2e" stroke-width="0.14" transform="rotate(-45 176.49 48.40)">U2AF1</text>
<text x="185.78" y="48.40" font-size="5.35" text-anchor="start" font-weight="normal" fill="#2e2e2e" stroke="#2e2e2e" stroke-width="0.14" transform="rotate(-45 185.78 48.40)">SF3B1</text>
<text x="195.07" y="48.40" font-size="5.35" text-anchor="start" font-weight="normal" fill="#2e2e2e" stroke="#2e2e2e" stroke-width="0.14" transform="rotate(-45 195.07 48.40)">GATA2::MECOM</text>
<text x="204.36" y="48.40" font-size="5.35" text-anchor="start" font-weight="normal" fill="#2e2e2e" stroke="#2e2e2e" stroke-width="0.14" transform="rotate(-45 204.36 48.40)">CEBPA bZIP</text>
<text x="213.65" y="48.40" font-size="5.35" text-anchor="start" font-weight="normal" fill="#2e2e2e" stroke="#2e2e2e" stroke-width="0.14" transform="rotate(-45 213.65 48.40)">RUNX1::RUNX1T1</text>
<text x="222.94" y="48.40" font-size="5.35" text-anchor="start" font-weight="normal" fill="#2e2e2e" stroke="#2e2e2e" stroke-width="0.14" transform="rotate(-45 222.94 48.40)">ZRSR2</text>
<text x="232.23" y="48.40" font-size="5.35" text-anchor="start" font-weight="normal" fill="#2e2e2e" stroke="#2e2e2e" stroke-width="0.14" transform="rotate(-45 232.23 48.40)">RUNX1</text>
<text x="241.52" y="48.40" font-size="5.35" text-anchor="start" font-weight="normal" fill="#2e2e2e" stroke="#2e2e2e" stroke-width="0.14" transform="rotate(-45 241.52 48.40)">EZH2</text>
<circle cx="36.94" cy="56.63" r="2.80" fill="#ef8a0e"/>
<circle cx="46.23" cy="56.63" r="2.50" fill="#ef8a0e"/>
<circle cx="83.39" cy="56.63" r="1.75" fill="#bcbcbc"/>
<circle cx="92.68" cy="56.63" r="1.80" fill="#bcbcbc"/>
<circle cx="101.97" cy="56.63" r="2.00" fill="#bcbcbc"/>
<circle cx="111.26" cy="56.63" r="1.90" fill="#bcbcbc"/>
<circle cx="46.23" cy="65.89" r="3.40" fill="#ef8a0e"/>
<circle cx="74.10" cy="65.89" r="1.80" fill="#bcbcbc"/>
<circle cx="83.39" cy="65.89" r="1.85" fill="#bcbcbc"/>
<circle cx="92.68" cy="65.89" r="2.00" fill="#bcbcbc"/>
<circle cx="101.97" cy="65.89" r="2.10" fill="#bcbcbc"/>
<circle cx="111.26" cy="65.89" r="1.85" fill="#bcbcbc"/>
<circle cx="139.13" cy="65.89" r="1.70" fill="#bcbcbc"/>
<circle cx="167.00" cy="65.89" r="1.85" fill="#bcbcbc"/>
<circle cx="232.03" cy="65.89" r="2.15" fill="#bcbcbc"/>
<circle cx="64.81" cy="75.15" r="2.10" fill="#bcbcbc"/>
<circle cx="74.10" cy="75.15" r="2.20" fill="#bcbcbc"/>
<circle cx="83.39" cy="75.15" r="2.10" fill="#bcbcbc"/>
<circle cx="92.68" cy="75.15" r="2.25" fill="#bcbcbc"/>
<circle cx="101.97" cy="75.15" r="2.50" fill="#bcbcbc"/>
<circle cx="111.26" cy="75.15" r="2.10" fill="#bcbcbc"/>
<circle cx="64.81" cy="84.41" r="2.30" fill="#ef8a0e"/>
<circle cx="74.10" cy="84.41" r="2.35" fill="#ef8a0e"/>
<circle cx="83.39" cy="84.41" r="1.85" fill="#ef8a0e"/>
<circle cx="92.68" cy="84.41" r="3.10" fill="#b5621a"/>
<circle cx="101.97" cy="84.41" r="2.35" fill="#ef8a0e"/>
<circle cx="194.88" cy="84.41" r="2.15" fill="#d58f1c"/>
<circle cx="74.10" cy="93.67" r="3.00" fill="#ef8a0e"/>
<circle cx="83.39" cy="93.67" r="2.85" fill="#ef8a0e"/>
<circle cx="92.68" cy="93.67" r="3.20" fill="#b5621a"/>
<circle cx="101.97" cy="93.67" r="3.00" fill="#ef8a0e"/>
<circle cx="83.39" cy="102.93" r="3.25" fill="#b5621a"/>
<circle cx="92.68" cy="102.93" r="3.25" fill="#b5621a"/>
<circle cx="101.97" cy="102.93" r="3.20" fill="#b5621a"/>
<circle cx="92.68" cy="112.19" r="3.25" fill="#b5621a"/>
<circle cx="101.97" cy="112.19" r="3.20" fill="#b5621a"/>
<circle cx="101.97" cy="121.45" r="3.30" fill="#b5621a"/>
<circle cx="148.42" cy="167.75" r="2.40" fill="#ef8a0e"/>
<circle cx="157.71" cy="167.75" r="2.40" fill="#d9920e"/>
<circle cx="232.03" cy="167.75" r="2.10" fill="#ef8a0e"/>
<circle cx="241.32" cy="167.75" r="1.90" fill="#ef8a0e"/>
<circle cx="157.71" cy="177.01" r="2.60" fill="#ef8a0e"/>
<circle cx="232.03" cy="177.01" r="2.30" fill="#ef8a0e"/>
<circle cx="232.03" cy="195.53" r="2.20" fill="#ef8a0e"/>
<circle cx="232.03" cy="204.79" r="1.90" fill="#ef8a0e"/>
<circle cx="194.88" cy="214.05" r="2.30" fill="#dc9626"/>
<circle cx="232.03" cy="214.05" r="2.00" fill="#ef8a0e"/>
<circle cx="241.32" cy="260.35" r="2.40" fill="#e0981a"/>
<rect x="250.10" y="51.60" width="8.70" height="53.50" fill="#b8651a"/>
<rect x="250.10" y="105.05" width="8.70" height="53.50" fill="#f18d0c"/>
<rect x="250.10" y="158.50" width="8.70" height="53.50" fill="#c6c6c6"/>
<rect x="250.10" y="211.95" width="8.70" height="53.50" fill="#1a4c88"/>
<rect x="250.10" y="51.60" width="8.70" height="213.80" fill="none" stroke="#2a2a2a" stroke-width="0.7"/>
<line x1="258.80" y1="51.60" x2="260.40" y2="51.60" stroke="#333" stroke-width="0.6"/>
<line x1="258.80" y1="105.05" x2="260.40" y2="105.05" stroke="#333" stroke-width="0.6"/>
<line x1="258.80" y1="158.50" x2="260.40" y2="158.50" stroke="#333" stroke-width="0.6"/>
<line x1="258.80" y1="211.95" x2="260.40" y2="211.95" stroke="#333" stroke-width="0.6"/>
<line x1="258.80" y1="265.40" x2="260.40" y2="265.40" stroke="#333" stroke-width="0.6"/>
<text x="263.60" y="51.70" font-size="6.3" text-anchor="start" font-weight="normal" fill="#333" stroke="#333" stroke-width="0.14" dominant-baseline="central">1</text>
<text x="263.00" y="105.15" font-size="6.3" text-anchor="start" font-weight="normal" fill="#333" stroke="#333" stroke-width="0.14" dominant-baseline="central">0.5</text>
<text x="263.00" y="158.60" font-size="6.3" text-anchor="start" font-weight="normal" fill="#333" stroke="#333" stroke-width="0.14" dominant-baseline="central">0</text>
<text x="263.00" y="212.05" font-size="6.3" text-anchor="start" font-weight="normal" fill="#333" stroke="#333" stroke-width="0.14" dominant-baseline="central">−0.5</text>
<text x="263.00" y="265.50" font-size="6.3" text-anchor="start" font-weight="normal" fill="#333" stroke="#333" stroke-width="0.14" dominant-baseline="central">−1</text>
<line x1="283.10" y1="53.50" x2="283.10" y2="87.20" stroke="#222" stroke-width="0.75"/>
<path d="M283.1,50.5 L281.3,55.2 L284.9,55.2 Z" fill="#222"/>
<text x="282.60" y="107.00" font-size="7.0" text-anchor="middle" font-weight="normal" fill="#1a1a1a" stroke="#1a1a1a" stroke-width="0.25" dominant-baseline="central" transform="rotate(-90 282.60 107.00)" textLength="34.00" lengthAdjust="spacingAndGlyphs">Co-occurring</text>
<line x1="283.10" y1="229.00" x2="283.10" y2="263.50" stroke="#222" stroke-width="0.75"/>
<path d="M283.1,266.4 L281.3,261.4 L284.9,261.4 Z" fill="#222"/>
<text x="282.90" y="202.00" font-size="7.0" text-anchor="middle" font-weight="normal" fill="#1a1a1a" stroke="#1a1a1a" stroke-width="0.25" dominant-baseline="central" transform="rotate(-90 282.90 202.00)" textLength="49.00" lengthAdjust="spacingAndGlyphs">Mutually exclusive</text>
<line x1="348.50" y1="16.00" x2="348.50" y2="108.90" stroke="#111" stroke-width="1.1"/>
<line x1="347.95" y1="108.35" x2="510.00" y2="108.35" stroke="#111" stroke-width="1.1"/>
<line x1="345.90" y1="104.40" x2="348.50" y2="104.40" stroke="#111" stroke-width="0.85"/>
<text x="342.20" y="104.60" font-size="6.5" text-anchor="end" font-weight="normal" fill="#333" stroke="#333" stroke-width="0.14" dominant-baseline="central">0%</text>
<line x1="345.90" y1="80.70" x2="348.50" y2="80.70" stroke="#111" stroke-width="0.85"/>
<text x="342.20" y="80.90" font-size="6.5" text-anchor="end" font-weight="normal" fill="#333" stroke="#333" stroke-width="0.14" dominant-baseline="central">10%</text>
<line x1="345.90" y1="57.00" x2="348.50" y2="57.00" stroke="#111" stroke-width="0.85"/>
<text x="342.20" y="57.20" font-size="6.5" text-anchor="end" font-weight="normal" fill="#333" stroke="#333" stroke-width="0.14" dominant-baseline="central">20%</text>
<line x1="345.90" y1="33.30" x2="348.50" y2="33.30" stroke="#111" stroke-width="0.85"/>
<text x="342.20" y="33.50" font-size="6.5" text-anchor="end" font-weight="normal" fill="#333" stroke="#333" stroke-width="0.14" dominant-baseline="central">30%</text>
<text x="319.60" y="62.80" font-size="8.0" text-anchor="middle" font-weight="normal" fill="#1a1a1a" stroke="#1a1a1a" stroke-width="0.3" dominant-baseline="central" transform="rotate(-90 319.60 62.80)" textLength="40.00" lengthAdjust="spacingAndGlyphs">Frequency (%)</text>
<line x1="364.60" y1="108.30" x2="364.60" y2="111.60" stroke="#111" stroke-width="0.85"/>
<text x="364.60" y="118.60" font-size="6.5" text-anchor="middle" font-weight="normal" fill="#333" stroke="#333" stroke-width="0.14" dominant-baseline="central">0</text>
<line x1="383.15" y1="108.30" x2="383.15" y2="111.60" stroke="#111" stroke-width="0.85"/>
<text x="383.15" y="118.60" font-size="6.5" text-anchor="middle" font-weight="normal" fill="#333" stroke="#333" stroke-width="0.14" dominant-baseline="central">1</text>
<line x1="401.70" y1="108.30" x2="401.70" y2="111.60" stroke="#111" stroke-width="0.85"/>
<text x="401.70" y="118.60" font-size="6.5" text-anchor="middle" font-weight="normal" fill="#333" stroke="#333" stroke-width="0.14" dominant-baseline="central">2</text>
<line x1="420.25" y1="108.30" x2="420.25" y2="111.60" stroke="#111" stroke-width="0.85"/>
<text x="420.25" y="118.60" font-size="6.5" text-anchor="middle" font-weight="normal" fill="#333" stroke="#333" stroke-width="0.14" dominant-baseline="central">3</text>
<line x1="438.80" y1="108.30" x2="438.80" y2="111.60" stroke="#111" stroke-width="0.85"/>
<text x="438.80" y="118.60" font-size="6.5" text-anchor="middle" font-weight="normal" fill="#333" stroke="#333" stroke-width="0.14" dominant-baseline="central">4</text>
<line x1="457.35" y1="108.30" x2="457.35" y2="111.60" stroke="#111" stroke-width="0.85"/>
<text x="457.35" y="118.60" font-size="6.5" text-anchor="middle" font-weight="normal" fill="#333" stroke="#333" stroke-width="0.14" dominant-baseline="central">5</text>
<line x1="475.90" y1="108.30" x2="475.90" y2="111.60" stroke="#111" stroke-width="0.85"/>
<text x="475.90" y="118.60" font-size="6.5" text-anchor="middle" font-weight="normal" fill="#333" stroke="#333" stroke-width="0.14" dominant-baseline="central">6</text>
<line x1="494.45" y1="108.30" x2="494.45" y2="111.60" stroke="#111" stroke-width="0.85"/>
<text x="494.45" y="118.60" font-size="6.5" text-anchor="middle" font-weight="normal" fill="#333" stroke="#333" stroke-width="0.14" dominant-baseline="central">7</text>
<text x="426.80" y="130.30" font-size="8.2" text-anchor="middle" font-weight="normal" fill="#1a1a1a" stroke="#1a1a1a" stroke-width="0.3" dominant-baseline="central" textLength="116.00" lengthAdjust="spacingAndGlyphs">Number of ELN 2022 risk defining mutations</text>
<rect x="356.30" y="89.00" width="16.60" height="14.90" fill="#c7c5cb"/>
<rect x="374.85" y="19.80" width="16.60" height="84.10" fill="#c7c5cb"/>
<rect x="393.40" y="77.80" width="16.60" height="26.10" fill="#c7c5cb"/>
<rect x="393.40" y="71.00" width="16.60" height="6.80" fill="#164a7b"/>
<rect x="393.40" y="46.30" width="16.60" height="24.70" fill="#3aa4dc"/>
<rect x="393.40" y="30.90" width="16.60" height="15.40" fill="#17684f"/>
<rect x="411.95" y="85.60" width="16.60" height="18.30" fill="#c7c5cb"/>
<rect x="411.95" y="81.40" width="16.60" height="4.20" fill="#164a7b"/>
<rect x="411.95" y="76.50" width="16.60" height="4.90" fill="#b3112f"/>
<rect x="430.50" y="88.00" width="16.60" height="15.90" fill="#c7c5cb"/>
<rect x="430.50" y="85.10" width="16.60" height="2.90" fill="#164a7b"/>
<rect x="449.05" y="94.90" width="16.60" height="9.00" fill="#c7c5cb"/>
<rect x="449.05" y="93.00" width="16.60" height="1.90" fill="#3f4257"/>
<rect x="467.60" y="101.40" width="16.60" height="2.50" fill="#c7c5cb"/>
<rect x="467.60" y="100.10" width="16.60" height="1.30" fill="#d5849a"/>
<rect x="486.15" y="102.50" width="16.60" height="1.40" fill="#c77d97"/>
<text x="429.00" y="9.20" font-size="5.5" text-anchor="start" font-weight="normal" fill="#363636" stroke="#363636" stroke-width="0.1" dominant-baseline="central">ELN 2022 mutation classification</text>
<rect x="429.00" y="14.40" width="6.40" height="5.40" fill="#17684f"/>
<text x="438.70" y="17.20" font-size="5.4" text-anchor="start" font-weight="normal" fill="#363636" stroke="#363636" stroke-width="0.1" dominant-baseline="central">Favorable / adverse</text>
<rect x="429.00" y="24.02" width="6.40" height="5.40" fill="#3aa4dc"/>
<text x="438.70" y="26.82" font-size="5.4" text-anchor="start" font-weight="normal" fill="#363636" stroke="#363636" stroke-width="0.1" dominant-baseline="central">Favorable / intermediate</text>
<rect x="429.00" y="33.64" width="6.40" height="5.40" fill="#b3112f"/>
<text x="438.70" y="36.44" font-size="5.4" text-anchor="start" font-weight="normal" fill="#363636" stroke="#363636" stroke-width="0.1" dominant-baseline="central">Favorable / intermediate / adverse</text>
<rect x="429.00" y="43.26" width="6.40" height="5.40" fill="#164a7b"/>
<text x="438.70" y="46.06" font-size="5.4" text-anchor="start" font-weight="normal" fill="#363636" stroke="#363636" stroke-width="0.1" dominant-baseline="central">Intermediate/ adverse</text>
<rect x="429.00" y="52.88" width="6.40" height="5.40" fill="#c7c5cb"/>
<text x="438.70" y="55.68" font-size="5.4" text-anchor="start" font-weight="normal" fill="#363636" stroke="#363636" stroke-width="0.1" dominant-baseline="central">NA / same risk group</text>
<line x1="348.60" y1="166.20" x2="348.60" y2="257.35" stroke="#111" stroke-width="1.1"/>
<line x1="348.05" y1="256.80" x2="516.00" y2="256.80" stroke="#111" stroke-width="1.1"/>
<line x1="346.00" y1="252.20" x2="348.60" y2="252.20" stroke="#111" stroke-width="0.85"/>
<text x="340.20" y="252.60" font-size="6.5" text-anchor="middle" font-weight="normal" fill="#333" stroke="#333" stroke-width="0.14" dominant-baseline="central">0</text>
<line x1="346.00" y1="240.34" x2="348.60" y2="240.34" stroke="#111" stroke-width="0.85"/>
<text x="340.20" y="240.74" font-size="6.5" text-anchor="middle" font-weight="normal" fill="#333" stroke="#333" stroke-width="0.14" dominant-baseline="central">1</text>
<line x1="346.00" y1="228.48" x2="348.60" y2="228.48" stroke="#111" stroke-width="0.85"/>
<text x="340.20" y="228.88" font-size="6.5" text-anchor="middle" font-weight="normal" fill="#333" stroke="#333" stroke-width="0.14" dominant-baseline="central">2</text>
<line x1="346.00" y1="216.62" x2="348.60" y2="216.62" stroke="#111" stroke-width="0.85"/>
<text x="340.20" y="217.02" font-size="6.5" text-anchor="middle" font-weight="normal" fill="#333" stroke="#333" stroke-width="0.14" dominant-baseline="central">3</text>
<line x1="346.00" y1="204.76" x2="348.60" y2="204.76" stroke="#111" stroke-width="0.85"/>
<text x="340.20" y="205.16" font-size="6.5" text-anchor="middle" font-weight="normal" fill="#333" stroke="#333" stroke-width="0.14" dominant-baseline="central">4</text>
<line x1="346.00" y1="192.90" x2="348.60" y2="192.90" stroke="#111" stroke-width="0.85"/>
<text x="340.20" y="193.30" font-size="6.5" text-anchor="middle" font-weight="normal" fill="#333" stroke="#333" stroke-width="0.14" dominant-baseline="central">5</text>
<line x1="346.00" y1="181.04" x2="348.60" y2="181.04" stroke="#111" stroke-width="0.85"/>
<text x="340.20" y="181.44" font-size="6.5" text-anchor="middle" font-weight="normal" fill="#333" stroke="#333" stroke-width="0.14" dominant-baseline="central">6</text>
<line x1="346.00" y1="169.18" x2="348.60" y2="169.18" stroke="#111" stroke-width="0.85"/>
<text x="340.20" y="169.58" font-size="6.5" text-anchor="middle" font-weight="normal" fill="#333" stroke="#333" stroke-width="0.14" dominant-baseline="central">7</text>
<text x="329.40" y="211.10" font-size="8.0" text-anchor="middle" font-weight="normal" fill="#1a1a1a" stroke="#1a1a1a" stroke-width="0.3" dominant-baseline="central" transform="rotate(-90 329.40 211.10)" textLength="59.00" lengthAdjust="spacingAndGlyphs">Mutations per patient</text>
<line x1="380.60" y1="256.80" x2="380.60" y2="260.00" stroke="#111" stroke-width="0.85"/>
<text x="380.60" y="266.90" font-size="6.3" text-anchor="middle" font-weight="normal" fill="#333" stroke="#333" stroke-width="0.14" dominant-baseline="central">Favorable risk</text>
<line x1="430.50" y1="256.80" x2="430.50" y2="260.00" stroke="#111" stroke-width="0.85"/>
<text x="430.50" y="266.90" font-size="6.3" text-anchor="middle" font-weight="normal" fill="#333" stroke="#333" stroke-width="0.14" dominant-baseline="central">Intermediate risk</text>
<line x1="480.40" y1="256.80" x2="480.40" y2="260.00" stroke="#111" stroke-width="0.85"/>
<text x="480.40" y="266.90" font-size="6.3" text-anchor="middle" font-weight="normal" fill="#333" stroke="#333" stroke-width="0.14" dominant-baseline="central">Adverse risk</text>
<path d="M380.50,199.40 L380.55,199.40 L380.60,223.80 L384.00,224.40 L386.50,225.50 L388.70,227.20 L389.50,228.60 L388.70,230.00 L386.50,231.80 L383.50,233.20 L381.30,234.00 L381.30,235.60 L385.00,236.30 L396.50,238.00 L410.50,240.60 L396.50,243.00 L385.00,244.90 L381.50,245.60 L379.50,245.60 L376.00,244.90 L364.50,243.00 L350.50,240.60 L364.50,238.00 L376.00,236.30 L379.70,235.60 L379.70,234.00 L377.50,233.20 L374.50,231.80 L372.30,230.00 L371.50,228.60 L372.30,227.20 L374.50,225.50 L377.00,224.40 L380.40,223.80 L380.45,199.40 Z" fill="#3aa4dc" stroke="#1e1e2a" stroke-width="0.6"/>
<path d="M430.40,181.60 L430.45,181.60 L430.55,216.00 L432.20,218.50 L434.40,221.50 L436.40,224.50 L437.00,227.60 L436.40,230.50 L434.80,233.70 L435.20,236.50 L435.60,239.00 L435.20,242.00 L434.80,245.00 L435.10,248.50 L435.20,252.10 L425.60,252.10 L425.70,248.50 L426.00,245.00 L425.60,242.00 L425.20,239.00 L425.60,236.50 L426.00,233.70 L424.40,230.50 L423.80,227.60 L424.40,224.50 L426.40,221.50 L428.60,218.50 L430.25,216.00 L430.35,181.60 Z" fill="#ee8a10" stroke="#1e1e2a" stroke-width="0.6"/>
<path d="M480.40,168.50 L480.45,168.50 L480.80,180.00 L481.90,186.00 L483.00,194.00 L484.40,204.00 L485.90,213.00 L487.30,221.00 L487.90,228.00 L487.30,233.00 L485.90,238.00 L484.40,242.00 L482.60,247.00 L480.70,251.80 L480.10,251.80 L478.20,247.00 L476.40,242.00 L474.90,238.00 L473.50,233.00 L472.90,228.00 L473.50,221.00 L474.90,213.00 L476.40,204.00 L477.80,194.00 L478.90,186.00 L480.00,180.00 L480.35,168.50 Z" fill="#8a7ec6" stroke="#1e1e2a" stroke-width="0.6"/>
<circle cx="379.53" cy="242.64" r="0.65" fill="#1f4e96"/>
<circle cx="384.18" cy="242.51" r="0.65" fill="#2b3f8a"/>
<circle cx="375.87" cy="238.29" r="0.65" fill="#244a8c"/>
<circle cx="384.09" cy="241.61" r="0.65" fill="#1f4e96"/>
<circle cx="380.74" cy="244.73" r="0.65" fill="#1f4e96"/>
<circle cx="381.41" cy="239.15" r="0.65" fill="#244a8c"/>
<circle cx="377.59" cy="237.84" r="0.65" fill="#1f4e96"/>
<circle cx="377.38" cy="239.25" r="0.65" fill="#244a8c"/>
<circle cx="385.47" cy="242.22" r="0.65" fill="#2b3f8a"/>
<circle cx="376.90" cy="242.70" r="0.65" fill="#4a3a8a"/>
<circle cx="378.68" cy="245.27" r="0.65" fill="#244a8c"/>
<circle cx="383.88" cy="243.22" r="0.65" fill="#244a8c"/>
<circle cx="377.62" cy="243.62" r="0.65" fill="#1f4e96"/>
<circle cx="376.45" cy="239.16" r="0.65" fill="#1c5aa0"/>
<circle cx="378.95" cy="237.66" r="0.65" fill="#2b3f8a"/>
<circle cx="375.24" cy="241.89" r="0.65" fill="#2b3f8a"/>
<circle cx="378.96" cy="245.29" r="0.65" fill="#244a8c"/>
<circle cx="383.17" cy="242.23" r="0.65" fill="#1c5aa0"/>
<circle cx="383.88" cy="237.60" r="0.65" fill="#2b3f8a"/>
<circle cx="379.33" cy="239.89" r="0.65" fill="#4a3a8a"/>
<circle cx="376.26" cy="243.07" r="0.65" fill="#244a8c"/>
<circle cx="383.82" cy="239.40" r="0.65" fill="#1f4e96"/>
<circle cx="380.89" cy="236.80" r="0.65" fill="#2b3f8a"/>
<circle cx="378.72" cy="243.45" r="0.65" fill="#1c5aa0"/>
<circle cx="377.18" cy="239.08" r="0.65" fill="#1f4e96"/>
<circle cx="384.13" cy="239.56" r="0.65" fill="#1f4e96"/>
<circle cx="384.85" cy="242.45" r="0.65" fill="#4a3a8a"/>
<circle cx="385.57" cy="240.59" r="0.65" fill="#2b3f8a"/>
<circle cx="379.40" cy="235.92" r="0.65" fill="#2b3f8a"/>
<circle cx="384.27" cy="241.31" r="0.65" fill="#244a8c"/>
<circle cx="377.48" cy="238.41" r="0.65" fill="#244a8c"/>
<circle cx="380.73" cy="238.91" r="0.65" fill="#244a8c"/>
<circle cx="376.20" cy="243.84" r="0.65" fill="#1c5aa0"/>
<circle cx="383.78" cy="242.52" r="0.65" fill="#4a3a8a"/>
<circle cx="380.14" cy="242.73" r="0.65" fill="#1c5aa0"/>
<circle cx="382.44" cy="238.69" r="0.65" fill="#1c5aa0"/>
<circle cx="385.11" cy="240.43" r="0.65" fill="#1c5aa0"/>
<circle cx="382.60" cy="240.26" r="0.65" fill="#244a8c"/>
<circle cx="383.14" cy="244.30" r="0.65" fill="#1f4e96"/>
<circle cx="376.22" cy="241.18" r="0.65" fill="#2b3f8a"/>
<circle cx="380.07" cy="242.78" r="0.65" fill="#4a3a8a"/>
<circle cx="377.63" cy="243.72" r="0.65" fill="#244a8c"/>
<circle cx="379.03" cy="237.26" r="0.65" fill="#4a3a8a"/>
<circle cx="377.79" cy="237.03" r="0.65" fill="#1c5aa0"/>
<circle cx="384.49" cy="238.04" r="0.65" fill="#4a3a8a"/>
<circle cx="377.74" cy="242.90" r="0.65" fill="#1f4e96"/>
<circle cx="376.98" cy="241.19" r="0.65" fill="#244a8c"/>
<circle cx="382.83" cy="241.79" r="0.65" fill="#244a8c"/>
<circle cx="383.85" cy="243.42" r="0.65" fill="#1f4e96"/>
<circle cx="382.68" cy="240.80" r="0.65" fill="#1f4e96"/>
<circle cx="384.66" cy="239.49" r="0.65" fill="#1f4e96"/>
<circle cx="383.59" cy="237.85" r="0.65" fill="#244a8c"/>
<circle cx="376.86" cy="236.93" r="0.65" fill="#4a3a8a"/>
<circle cx="379.21" cy="242.20" r="0.65" fill="#1c5aa0"/>
<circle cx="384.32" cy="240.64" r="0.65" fill="#1c5aa0"/>
<circle cx="379.69" cy="242.66" r="0.65" fill="#2b3f8a"/>
<circle cx="380.27" cy="237.14" r="0.65" fill="#244a8c"/>
<circle cx="377.98" cy="240.55" r="0.65" fill="#4a3a8a"/>
<circle cx="377.50" cy="244.16" r="0.65" fill="#1f4e96"/>
<circle cx="380.66" cy="237.91" r="0.65" fill="#1f4e96"/>
<circle cx="379.55" cy="238.25" r="0.65" fill="#2b3f8a"/>
<circle cx="383.30" cy="239.08" r="0.65" fill="#244a8c"/>
<circle cx="375.66" cy="239.85" r="0.65" fill="#2b3f8a"/>
<circle cx="377.63" cy="237.66" r="0.65" fill="#244a8c"/>
<circle cx="382.25" cy="236.30" r="0.65" fill="#244a8c"/>
<circle cx="381.72" cy="244.34" r="0.65" fill="#1f4e96"/>
<circle cx="385.47" cy="240.49" r="0.65" fill="#1c5aa0"/>
<circle cx="380.23" cy="245.20" r="0.65" fill="#2b3f8a"/>
<circle cx="375.37" cy="242.47" r="0.65" fill="#2b3f8a"/>
<circle cx="383.75" cy="239.91" r="0.65" fill="#244a8c"/>
<circle cx="383.58" cy="242.98" r="0.65" fill="#2b3f8a"/>
<circle cx="381.75" cy="244.82" r="0.65" fill="#4a3a8a"/>
<circle cx="382.59" cy="237.71" r="0.65" fill="#2b3f8a"/>
<circle cx="381.00" cy="239.33" r="0.65" fill="#1f4e96"/>
<circle cx="384.68" cy="238.28" r="0.65" fill="#244a8c"/>
<circle cx="378.16" cy="241.11" r="0.65" fill="#2b3f8a"/>
<circle cx="385.16" cy="243.47" r="0.65" fill="#1c5aa0"/>
<circle cx="375.80" cy="241.85" r="0.65" fill="#1f4e96"/>
<circle cx="380.14" cy="238.64" r="0.65" fill="#244a8c"/>
<circle cx="384.74" cy="241.50" r="0.65" fill="#1c5aa0"/>
<circle cx="381.24" cy="238.90" r="0.65" fill="#4a3a8a"/>
<circle cx="385.01" cy="240.27" r="0.65" fill="#2b3f8a"/>
<circle cx="382.81" cy="244.06" r="0.65" fill="#1f4e96"/>
<circle cx="386.00" cy="241.27" r="0.65" fill="#1f4e96"/>
<circle cx="375.16" cy="239.95" r="0.65" fill="#1c5aa0"/>
<circle cx="382.96" cy="240.60" r="0.65" fill="#244a8c"/>
<circle cx="383.04" cy="241.23" r="0.65" fill="#4a3a8a"/>
<circle cx="380.75" cy="244.85" r="0.65" fill="#2b3f8a"/>
<circle cx="375.58" cy="239.47" r="0.65" fill="#1f4e96"/>
<circle cx="383.31" cy="239.11" r="0.65" fill="#1c5aa0"/>
<circle cx="377.86" cy="236.72" r="0.65" fill="#4a3a8a"/>
<circle cx="375.79" cy="243.23" r="0.65" fill="#4a3a8a"/>
<circle cx="381.99" cy="242.31" r="0.65" fill="#4a3a8a"/>
<circle cx="384.19" cy="241.21" r="0.65" fill="#244a8c"/>
<circle cx="376.67" cy="237.86" r="0.65" fill="#244a8c"/>
<circle cx="382.31" cy="244.02" r="0.65" fill="#1f4e96"/>
<circle cx="377.50" cy="239.75" r="0.65" fill="#4a3a8a"/>
<circle cx="376.68" cy="240.09" r="0.65" fill="#1f4e96"/>
<circle cx="381.49" cy="239.95" r="0.65" fill="#244a8c"/>
<circle cx="379.67" cy="245.39" r="0.65" fill="#4a3a8a"/>
<circle cx="379.61" cy="241.06" r="0.65" fill="#1f4e96"/>
<circle cx="376.39" cy="242.25" r="0.65" fill="#4a3a8a"/>
<circle cx="378.54" cy="239.34" r="0.65" fill="#2b3f8a"/>
<circle cx="376.59" cy="241.94" r="0.65" fill="#1c5aa0"/>
<circle cx="377.72" cy="240.67" r="0.65" fill="#4a3a8a"/>
<circle cx="384.38" cy="237.20" r="0.65" fill="#2b3f8a"/>
<circle cx="385.18" cy="238.46" r="0.65" fill="#244a8c"/>
<circle cx="381.61" cy="239.14" r="0.65" fill="#1f4e96"/>
<circle cx="378.04" cy="242.66" r="0.65" fill="#244a8c"/>
<circle cx="378.17" cy="241.86" r="0.65" fill="#2b3f8a"/>
<circle cx="381.62" cy="235.89" r="0.65" fill="#244a8c"/>
<circle cx="384.67" cy="239.22" r="0.65" fill="#2b3f8a"/>
<circle cx="383.78" cy="244.70" r="0.65" fill="#1c5aa0"/>
<circle cx="381.54" cy="245.88" r="0.65" fill="#1c5aa0"/>
<circle cx="382.19" cy="239.39" r="0.65" fill="#244a8c"/>
<circle cx="382.44" cy="243.76" r="0.65" fill="#4a3a8a"/>
<circle cx="377.51" cy="242.75" r="0.65" fill="#2b3f8a"/>
<circle cx="378.51" cy="244.89" r="0.65" fill="#1f4e96"/>
<circle cx="378.51" cy="243.85" r="0.65" fill="#1f4e96"/>
<circle cx="377.49" cy="243.33" r="0.65" fill="#2b3f8a"/>
<circle cx="379.36" cy="228.73" r="0.65" fill="#244a8c"/>
<circle cx="381.93" cy="228.58" r="0.65" fill="#2a62aa"/>
<circle cx="379.91" cy="232.38" r="0.65" fill="#244a8c"/>
<circle cx="380.29" cy="230.16" r="0.65" fill="#1c5aa0"/>
<circle cx="382.67" cy="226.27" r="0.65" fill="#2a62aa"/>
<circle cx="377.76" cy="230.35" r="0.65" fill="#1c5aa0"/>
<circle cx="380.09" cy="227.72" r="0.65" fill="#1f4e96"/>
<circle cx="381.09" cy="227.25" r="0.65" fill="#1f4e96"/>
<circle cx="380.43" cy="229.29" r="0.65" fill="#1f4e96"/>
<circle cx="380.92" cy="227.76" r="0.65" fill="#244a8c"/>
<circle cx="384.32" cy="230.23" r="0.65" fill="#1c5aa0"/>
<circle cx="384.98" cy="229.07" r="0.65" fill="#1c5aa0"/>
<circle cx="382.59" cy="227.93" r="0.65" fill="#244a8c"/>
<circle cx="384.15" cy="229.66" r="0.65" fill="#1f4e96"/>
<circle cx="382.76" cy="228.43" r="0.65" fill="#244a8c"/>
<circle cx="381.25" cy="230.83" r="0.65" fill="#2a62aa"/>
<circle cx="378.50" cy="228.47" r="0.65" fill="#1c5aa0"/>
<circle cx="378.60" cy="228.80" r="0.65" fill="#2a62aa"/>
<circle cx="381.99" cy="225.22" r="0.65" fill="#1f4e96"/>
<circle cx="384.34" cy="229.11" r="0.65" fill="#244a8c"/>
<circle cx="378.28" cy="228.63" r="0.65" fill="#1c5aa0"/>
<circle cx="383.70" cy="230.93" r="0.65" fill="#1c5aa0"/>
<circle cx="378.66" cy="226.46" r="0.65" fill="#1c5aa0"/>
<circle cx="382.95" cy="228.41" r="0.65" fill="#244a8c"/>
<circle cx="383.12" cy="228.56" r="0.65" fill="#244a8c"/>
<circle cx="378.31" cy="230.06" r="0.65" fill="#1f4e96"/>
<circle cx="380.78" cy="228.41" r="0.65" fill="#2a62aa"/>
<circle cx="379.54" cy="229.18" r="0.65" fill="#1c5aa0"/>
<circle cx="383.03" cy="226.54" r="0.65" fill="#2a62aa"/>
<circle cx="377.45" cy="226.96" r="0.65" fill="#1f4e96"/>
<circle cx="378.77" cy="229.18" r="0.65" fill="#1c5aa0"/>
<circle cx="383.21" cy="228.85" r="0.65" fill="#2a62aa"/>
<circle cx="383.78" cy="228.32" r="0.65" fill="#244a8c"/>
<circle cx="384.63" cy="229.57" r="0.65" fill="#244a8c"/>
<circle cx="380.41" cy="228.90" r="0.65" fill="#1c5aa0"/>
<circle cx="382.55" cy="229.81" r="0.65" fill="#244a8c"/>
<circle cx="380.55" cy="232.15" r="0.65" fill="#1f4e96"/>
<circle cx="380.38" cy="229.93" r="0.65" fill="#1c5aa0"/>
<circle cx="378.09" cy="227.56" r="0.65" fill="#2a62aa"/>
<circle cx="379.77" cy="230.53" r="0.65" fill="#244a8c"/>
<circle cx="378.41" cy="226.11" r="0.65" fill="#1c5aa0"/>
<circle cx="380.84" cy="225.59" r="0.65" fill="#1c5aa0"/>
<circle cx="382.76" cy="231.41" r="0.65" fill="#244a8c"/>
<circle cx="384.46" cy="229.74" r="0.65" fill="#1c5aa0"/>
<circle cx="380.09" cy="225.39" r="0.65" fill="#244a8c"/>
<circle cx="380.50" cy="205.00" r="0.90" fill="#222a50"/>
<circle cx="383.30" cy="207.90" r="0.65" fill="#5a4a9a"/>
<circle cx="430.99" cy="248.21" r="0.70" fill="#a02838"/>
<circle cx="431.12" cy="244.95" r="0.70" fill="#253c8f"/>
<circle cx="428.08" cy="241.17" r="0.70" fill="#253c8f"/>
<circle cx="429.98" cy="249.74" r="0.70" fill="#253c8f"/>
<circle cx="431.95" cy="239.46" r="0.70" fill="#b8322e"/>
<circle cx="426.70" cy="228.18" r="0.70" fill="#3050a0"/>
<circle cx="430.62" cy="247.83" r="0.70" fill="#253c8f"/>
<circle cx="426.74" cy="242.84" r="0.70" fill="#c52a57"/>
<circle cx="428.08" cy="227.28" r="0.70" fill="#253c8f"/>
<circle cx="429.39" cy="250.25" r="0.70" fill="#b8322e"/>
<circle cx="426.50" cy="248.22" r="0.70" fill="#253c8f"/>
<circle cx="427.37" cy="239.93" r="0.70" fill="#c52a57"/>
<circle cx="431.44" cy="240.20" r="0.70" fill="#c52a57"/>
<circle cx="428.41" cy="220.39" r="0.70" fill="#253c8f"/>
<circle cx="430.31" cy="223.09" r="0.70" fill="#253c8f"/>
<circle cx="430.11" cy="236.01" r="0.70" fill="#253c8f"/>
<circle cx="428.78" cy="250.79" r="0.70" fill="#253c8f"/>
<circle cx="430.05" cy="249.02" r="0.70" fill="#a02838"/>
<circle cx="434.65" cy="235.71" r="0.70" fill="#b8322e"/>
<circle cx="427.91" cy="226.50" r="0.70" fill="#3050a0"/>
<circle cx="431.29" cy="228.12" r="0.70" fill="#253c8f"/>
<circle cx="432.15" cy="235.77" r="0.70" fill="#c52a57"/>
<circle cx="429.49" cy="235.43" r="0.70" fill="#c52a57"/>
<circle cx="429.98" cy="220.11" r="0.70" fill="#c52a57"/>
<circle cx="429.33" cy="242.54" r="0.70" fill="#253c8f"/>
<circle cx="432.56" cy="246.05" r="0.70" fill="#a02838"/>
<circle cx="427.78" cy="232.35" r="0.70" fill="#253c8f"/>
<circle cx="429.30" cy="247.95" r="0.70" fill="#b8322e"/>
<circle cx="426.76" cy="232.09" r="0.70" fill="#b8322e"/>
<circle cx="428.51" cy="243.43" r="0.70" fill="#253c8f"/>
<circle cx="434.15" cy="245.87" r="0.70" fill="#c52a57"/>
<circle cx="428.81" cy="250.10" r="0.70" fill="#a02838"/>
<circle cx="433.70" cy="231.57" r="0.70" fill="#a02838"/>
<circle cx="433.63" cy="243.61" r="0.70" fill="#3050a0"/>
<circle cx="426.53" cy="237.03" r="0.70" fill="#253c8f"/>
<circle cx="427.29" cy="232.74" r="0.70" fill="#a02838"/>
<circle cx="434.07" cy="228.87" r="0.70" fill="#c52a57"/>
<circle cx="428.52" cy="225.29" r="0.70" fill="#c52a57"/>
<circle cx="428.34" cy="242.91" r="0.70" fill="#253c8f"/>
<circle cx="431.85" cy="227.40" r="0.70" fill="#253c8f"/>
<circle cx="427.89" cy="225.19" r="0.70" fill="#a02838"/>
<circle cx="433.89" cy="235.41" r="0.70" fill="#a02838"/>
<circle cx="427.75" cy="233.95" r="0.70" fill="#253c8f"/>
<circle cx="428.85" cy="225.42" r="0.70" fill="#c52a57"/>
<circle cx="433.73" cy="228.01" r="0.70" fill="#253c8f"/>
<circle cx="432.51" cy="246.99" r="0.70" fill="#c52a57"/>
<circle cx="426.63" cy="231.68" r="0.70" fill="#c52a57"/>
<circle cx="432.01" cy="237.80" r="0.70" fill="#3050a0"/>
<circle cx="427.96" cy="239.52" r="0.70" fill="#c52a57"/>
<circle cx="431.65" cy="247.80" r="0.70" fill="#b8322e"/>
<circle cx="433.61" cy="249.57" r="0.70" fill="#253c8f"/>
<circle cx="432.67" cy="223.94" r="0.70" fill="#a02838"/>
<circle cx="426.10" cy="234.67" r="0.70" fill="#b8322e"/>
<circle cx="430.64" cy="248.84" r="0.70" fill="#b8322e"/>
<circle cx="427.04" cy="250.14" r="0.70" fill="#c52a57"/>
<circle cx="427.04" cy="224.71" r="0.70" fill="#a02838"/>
<circle cx="432.68" cy="242.37" r="0.70" fill="#b8322e"/>
<circle cx="431.00" cy="220.04" r="0.70" fill="#253c8f"/>
<circle cx="427.20" cy="240.01" r="0.70" fill="#c52a57"/>
<circle cx="432.67" cy="236.38" r="0.70" fill="#253c8f"/>
<circle cx="431.11" cy="222.18" r="0.70" fill="#b8322e"/>
<circle cx="426.11" cy="228.09" r="0.70" fill="#3050a0"/>
<circle cx="434.35" cy="229.35" r="0.70" fill="#253c8f"/>
<circle cx="430.63" cy="246.02" r="0.70" fill="#3050a0"/>
<circle cx="432.16" cy="227.66" r="0.70" fill="#c52a57"/>
<circle cx="433.71" cy="221.71" r="0.70" fill="#253c8f"/>
<circle cx="431.84" cy="233.02" r="0.70" fill="#c52a57"/>
<circle cx="429.01" cy="227.03" r="0.70" fill="#b8322e"/>
<circle cx="426.16" cy="231.23" r="0.70" fill="#c52a57"/>
<circle cx="427.86" cy="242.91" r="0.70" fill="#c52a57"/>
<circle cx="428.08" cy="229.66" r="0.70" fill="#c52a57"/>
<circle cx="427.04" cy="228.22" r="0.70" fill="#3050a0"/>
<circle cx="428.02" cy="235.37" r="0.70" fill="#b8322e"/>
<circle cx="431.22" cy="248.22" r="0.70" fill="#b8322e"/>
<circle cx="431.23" cy="221.69" r="0.70" fill="#b8322e"/>
<circle cx="429.48" cy="221.61" r="0.70" fill="#253c8f"/>
<circle cx="434.68" cy="247.39" r="0.70" fill="#c52a57"/>
<circle cx="434.15" cy="230.21" r="0.70" fill="#253c8f"/>
<circle cx="432.34" cy="234.50" r="0.70" fill="#a02838"/>
<circle cx="427.56" cy="231.59" r="0.70" fill="#253c8f"/>
<circle cx="429.71" cy="222.43" r="0.70" fill="#253c8f"/>
<circle cx="429.37" cy="237.39" r="0.70" fill="#a02838"/>
<circle cx="429.82" cy="245.47" r="0.70" fill="#253c8f"/>
<circle cx="430.76" cy="241.86" r="0.70" fill="#b8322e"/>
<circle cx="433.81" cy="225.98" r="0.70" fill="#253c8f"/>
<circle cx="431.48" cy="239.58" r="0.70" fill="#b8322e"/>
<circle cx="426.64" cy="221.26" r="0.70" fill="#253c8f"/>
<circle cx="433.83" cy="227.97" r="0.70" fill="#c52a57"/>
<circle cx="434.30" cy="231.25" r="0.70" fill="#253c8f"/>
<circle cx="428.82" cy="228.13" r="0.70" fill="#c52a57"/>
<circle cx="431.22" cy="229.22" r="0.70" fill="#a02838"/>
<circle cx="426.31" cy="239.65" r="0.70" fill="#c52a57"/>
<circle cx="432.89" cy="234.44" r="0.70" fill="#b8322e"/>
<circle cx="430.37" cy="245.26" r="0.70" fill="#253c8f"/>
<circle cx="433.18" cy="244.88" r="0.70" fill="#a02838"/>
<circle cx="433.51" cy="224.69" r="0.70" fill="#b8322e"/>
<circle cx="426.78" cy="231.22" r="0.70" fill="#c52a57"/>
<circle cx="429.61" cy="232.14" r="0.70" fill="#253c8f"/>
<circle cx="428.90" cy="221.05" r="0.70" fill="#b8322e"/>
<circle cx="428.38" cy="247.39" r="0.70" fill="#253c8f"/>
<circle cx="434.60" cy="226.46" r="0.70" fill="#b8322e"/>
<circle cx="430.06" cy="225.37" r="0.70" fill="#253c8f"/>
<circle cx="432.76" cy="227.28" r="0.70" fill="#a02838"/>
<circle cx="429.31" cy="229.11" r="0.70" fill="#253c8f"/>
<circle cx="427.70" cy="228.07" r="0.70" fill="#c52a57"/>
<circle cx="431.07" cy="224.75" r="0.70" fill="#c52a57"/>
<circle cx="428.22" cy="222.01" r="0.70" fill="#3050a0"/>
<circle cx="431.72" cy="227.17" r="0.70" fill="#253c8f"/>
<circle cx="433.14" cy="223.17" r="0.70" fill="#a02838"/>
<circle cx="433.64" cy="233.90" r="0.70" fill="#c52a57"/>
<circle cx="434.47" cy="223.70" r="0.70" fill="#3050a0"/>
<circle cx="430.51" cy="226.02" r="0.70" fill="#c52a57"/>
<circle cx="432.79" cy="233.92" r="0.70" fill="#253c8f"/>
<circle cx="431.43" cy="223.28" r="0.70" fill="#c52a57"/>
<circle cx="426.48" cy="221.16" r="0.70" fill="#c52a57"/>
<circle cx="433.14" cy="248.33" r="0.70" fill="#b8322e"/>
<circle cx="428.78" cy="241.03" r="0.70" fill="#c52a57"/>
<circle cx="430.26" cy="220.98" r="0.70" fill="#b8322e"/>
<circle cx="430.83" cy="223.14" r="0.70" fill="#253c8f"/>
<circle cx="429.52" cy="236.55" r="0.70" fill="#c52a57"/>
<circle cx="428.75" cy="232.70" r="0.70" fill="#253c8f"/>
<circle cx="429.17" cy="229.68" r="0.70" fill="#b8322e"/>
<circle cx="429.46" cy="244.87" r="0.70" fill="#b8322e"/>
<circle cx="433.85" cy="226.31" r="0.70" fill="#b8322e"/>
<circle cx="431.07" cy="223.52" r="0.70" fill="#c52a57"/>
<circle cx="426.23" cy="234.29" r="0.70" fill="#3050a0"/>
<circle cx="429.51" cy="224.42" r="0.70" fill="#3050a0"/>
<circle cx="430.44" cy="239.29" r="0.70" fill="#c52a57"/>
<circle cx="427.58" cy="230.79" r="0.70" fill="#253c8f"/>
<circle cx="433.02" cy="223.37" r="0.70" fill="#a02838"/>
<circle cx="428.10" cy="195.70" r="0.75" fill="#253c8f"/>
<circle cx="427.60" cy="212.30" r="0.75" fill="#253c8f"/>
<circle cx="427.78" cy="248.94" r="0.65" fill="#253c8f"/>
<circle cx="434.78" cy="250.19" r="0.65" fill="#253c8f"/>
<circle cx="431.47" cy="250.73" r="0.65" fill="#253c8f"/>
<circle cx="434.14" cy="250.67" r="0.65" fill="#253c8f"/>
<circle cx="431.76" cy="251.50" r="0.65" fill="#3a5aa8"/>
<circle cx="429.64" cy="251.46" r="0.65" fill="#253c8f"/>
<circle cx="427.65" cy="249.26" r="0.65" fill="#253c8f"/>
<circle cx="434.45" cy="249.05" r="0.65" fill="#253c8f"/>
<circle cx="427.11" cy="249.36" r="0.65" fill="#3a5aa8"/>
<circle cx="433.34" cy="249.17" r="0.65" fill="#3a5aa8"/>
<circle cx="433.58" cy="250.85" r="0.65" fill="#3a5aa8"/>
<circle cx="433.54" cy="248.91" r="0.65" fill="#3a5aa8"/>
<circle cx="430.10" cy="251.47" r="0.65" fill="#253c8f"/>
<circle cx="431.84" cy="249.58" r="0.65" fill="#253c8f"/>
<circle cx="429.83" cy="250.81" r="0.65" fill="#253c8f"/>
<circle cx="430.53" cy="249.13" r="0.65" fill="#253c8f"/>
<circle cx="431.57" cy="250.21" r="0.65" fill="#253c8f"/>
<circle cx="430.02" cy="250.67" r="0.65" fill="#253c8f"/>
<circle cx="433.53" cy="251.34" r="0.65" fill="#253c8f"/>
<circle cx="426.96" cy="248.95" r="0.65" fill="#253c8f"/>
<circle cx="429.29" cy="251.31" r="0.65" fill="#3a5aa8"/>
<circle cx="430.59" cy="248.64" r="0.65" fill="#3a5aa8"/>
<circle cx="483.02" cy="237.85" r="0.75" fill="#253c8f"/>
<circle cx="482.54" cy="234.92" r="0.75" fill="#253c8f"/>
<circle cx="484.23" cy="206.62" r="0.75" fill="#253c8f"/>
<circle cx="477.83" cy="221.68" r="0.75" fill="#253c8f"/>
<circle cx="478.78" cy="215.81" r="0.75" fill="#3050b0"/>
<circle cx="478.22" cy="239.79" r="0.75" fill="#3050b0"/>
<circle cx="478.46" cy="186.90" r="0.75" fill="#2f4fa8"/>
<circle cx="477.35" cy="221.18" r="0.75" fill="#253c8f"/>
<circle cx="483.83" cy="217.81" r="0.75" fill="#3050b0"/>
<circle cx="484.04" cy="208.91" r="0.75" fill="#253c8f"/>
<circle cx="482.83" cy="213.25" r="0.75" fill="#2f4fa8"/>
<circle cx="480.55" cy="242.74" r="0.75" fill="#253c8f"/>
<circle cx="481.19" cy="218.04" r="0.75" fill="#3a5cc0"/>
<circle cx="482.67" cy="237.92" r="0.75" fill="#253c8f"/>
<circle cx="484.04" cy="202.00" r="0.75" fill="#253c8f"/>
<circle cx="476.22" cy="206.35" r="0.75" fill="#253c8f"/>
<circle cx="481.54" cy="214.15" r="0.75" fill="#2f4fa8"/>
<circle cx="481.69" cy="180.79" r="0.75" fill="#3a5cc0"/>
<circle cx="480.96" cy="180.07" r="0.75" fill="#3a5cc0"/>
<circle cx="478.23" cy="229.12" r="0.75" fill="#253c8f"/>
<circle cx="481.12" cy="237.68" r="0.75" fill="#3050b0"/>
<circle cx="476.34" cy="199.96" r="0.75" fill="#253c8f"/>
<circle cx="477.64" cy="241.42" r="0.75" fill="#3050b0"/>
<circle cx="479.62" cy="218.31" r="0.75" fill="#3050b0"/>
<circle cx="479.45" cy="182.03" r="0.75" fill="#253c8f"/>
<circle cx="479.25" cy="205.54" r="0.75" fill="#2f4fa8"/>
<circle cx="482.62" cy="226.25" r="0.75" fill="#2f4fa8"/>
<circle cx="478.22" cy="240.20" r="0.75" fill="#253c8f"/>
<circle cx="481.71" cy="209.05" r="0.75" fill="#253c8f"/>
<circle cx="477.26" cy="233.73" r="0.75" fill="#253c8f"/>
<circle cx="480.93" cy="183.38" r="0.75" fill="#2f4fa8"/>
<circle cx="482.17" cy="238.84" r="0.75" fill="#3a5cc0"/>
<circle cx="480.14" cy="233.72" r="0.75" fill="#3050b0"/>
<circle cx="479.82" cy="222.57" r="0.75" fill="#3a5cc0"/>
<circle cx="481.19" cy="229.66" r="0.75" fill="#3050b0"/>
<circle cx="476.05" cy="239.09" r="0.75" fill="#253c8f"/>
<circle cx="484.79" cy="216.70" r="0.75" fill="#3a5cc0"/>
<circle cx="481.06" cy="170.73" r="0.75" fill="#3a5cc0"/>
<circle cx="478.81" cy="171.81" r="0.75" fill="#3050b0"/>
<circle cx="484.58" cy="227.54" r="0.75" fill="#3050b0"/>
<circle cx="483.78" cy="237.57" r="0.75" fill="#3a5cc0"/>
<circle cx="477.69" cy="241.69" r="0.75" fill="#253c8f"/>
<circle cx="476.60" cy="239.11" r="0.75" fill="#3a5cc0"/>
<circle cx="477.02" cy="217.50" r="0.75" fill="#3a5cc0"/>
<circle cx="479.97" cy="184.39" r="0.75" fill="#253c8f"/>
<circle cx="481.34" cy="239.05" r="0.75" fill="#2f4fa8"/>
<circle cx="476.09" cy="234.48" r="0.75" fill="#2f4fa8"/>
<circle cx="481.09" cy="223.87" r="0.75" fill="#253c8f"/>
<circle cx="479.02" cy="181.70" r="0.75" fill="#253c8f"/>
<circle cx="477.50" cy="206.59" r="0.75" fill="#2f4fa8"/>
<circle cx="480.54" cy="214.42" r="0.75" fill="#3050b0"/>
<circle cx="477.78" cy="241.65" r="0.75" fill="#3a5cc0"/>
<circle cx="483.17" cy="186.44" r="0.75" fill="#253c8f"/>
<circle cx="480.96" cy="206.50" r="0.75" fill="#253c8f"/>
<circle cx="479.49" cy="217.16" r="0.75" fill="#2f4fa8"/>
<circle cx="479.68" cy="237.62" r="0.75" fill="#3a5cc0"/>
<circle cx="479.59" cy="170.45" r="0.75" fill="#3050b0"/>
<circle cx="483.93" cy="207.34" r="0.75" fill="#253c8f"/>
<circle cx="481.27" cy="241.65" r="0.75" fill="#3a5cc0"/>
<circle cx="479.01" cy="226.86" r="0.75" fill="#253c8f"/>
<circle cx="479.94" cy="208.93" r="0.75" fill="#3050b0"/>
<circle cx="479.84" cy="226.00" r="0.75" fill="#253c8f"/>
<circle cx="480.05" cy="213.39" r="0.75" fill="#3a5cc0"/>
<circle cx="479.12" cy="186.94" r="0.75" fill="#3a5cc0"/>
<circle cx="482.45" cy="232.56" r="0.75" fill="#253c8f"/>
<circle cx="479.01" cy="224.54" r="0.75" fill="#253c8f"/>
<circle cx="484.38" cy="193.93" r="0.75" fill="#3a5cc0"/>
<circle cx="477.19" cy="219.49" r="0.75" fill="#253c8f"/>
<circle cx="479.80" cy="230.10" r="0.75" fill="#253c8f"/>
<circle cx="483.66" cy="204.45" r="0.75" fill="#2f4fa8"/>
<circle cx="481.62" cy="222.24" r="0.75" fill="#2f4fa8"/>
<circle cx="478.03" cy="225.71" r="0.75" fill="#2f4fa8"/>
<circle cx="481.75" cy="222.84" r="0.75" fill="#253c8f"/>
<circle cx="483.87" cy="220.26" r="0.75" fill="#3a5cc0"/>
<circle cx="482.05" cy="222.76" r="0.75" fill="#3a5cc0"/>
<circle cx="479.48" cy="237.84" r="0.75" fill="#3a5cc0"/>
<circle cx="479.70" cy="217.30" r="0.75" fill="#2f4fa8"/>
<circle cx="483.83" cy="208.66" r="0.75" fill="#3a5cc0"/>
<circle cx="483.18" cy="193.92" r="0.75" fill="#253c8f"/>
<circle cx="480.51" cy="210.43" r="0.75" fill="#3a5cc0"/>
<circle cx="478.95" cy="229.92" r="0.75" fill="#3a5cc0"/>
<circle cx="482.10" cy="241.97" r="0.75" fill="#2f4fa8"/>
<circle cx="482.51" cy="208.32" r="0.75" fill="#3050b0"/>
<circle cx="478.38" cy="196.05" r="0.75" fill="#2f4fa8"/>
<circle cx="481.89" cy="173.27" r="0.75" fill="#3a5cc0"/>
<circle cx="478.24" cy="222.61" r="0.75" fill="#253c8f"/>
<circle cx="484.35" cy="204.31" r="0.75" fill="#253c8f"/>
<circle cx="480.12" cy="231.24" r="0.75" fill="#3050b0"/>
<circle cx="477.15" cy="224.35" r="0.75" fill="#3a5cc0"/>
<circle cx="483.31" cy="218.01" r="0.75" fill="#2f4fa8"/>
<circle cx="480.12" cy="218.84" r="0.75" fill="#253c8f"/>
<circle cx="478.65" cy="189.23" r="0.75" fill="#2f4fa8"/>
<circle cx="483.21" cy="221.11" r="0.75" fill="#253c8f"/>
<circle cx="478.78" cy="196.24" r="0.75" fill="#2f4fa8"/>
<circle cx="481.87" cy="201.71" r="0.75" fill="#253c8f"/>
<circle cx="480.99" cy="198.35" r="0.75" fill="#253c8f"/>
<circle cx="483.45" cy="229.26" r="0.75" fill="#3a5cc0"/>
<circle cx="477.73" cy="213.64" r="0.75" fill="#253c8f"/>
<circle cx="476.73" cy="219.34" r="0.75" fill="#253c8f"/>
<circle cx="479.96" cy="234.70" r="0.75" fill="#253c8f"/>
<circle cx="482.13" cy="209.93" r="0.75" fill="#253c8f"/>
<circle cx="483.05" cy="220.31" r="0.75" fill="#253c8f"/>
<circle cx="479.83" cy="209.64" r="0.75" fill="#253c8f"/>
<circle cx="477.95" cy="211.52" r="0.75" fill="#253c8f"/>
<circle cx="480.26" cy="205.18" r="0.75" fill="#253c8f"/>
<circle cx="477.31" cy="222.78" r="0.75" fill="#3050b0"/>
<circle cx="483.54" cy="235.37" r="0.75" fill="#2f4fa8"/>
<circle cx="478.53" cy="222.43" r="0.75" fill="#2f4fa8"/>
<circle cx="484.64" cy="197.56" r="0.75" fill="#253c8f"/>
<circle cx="481.12" cy="182.49" r="0.75" fill="#253c8f"/>
<circle cx="484.37" cy="215.75" r="0.75" fill="#253c8f"/>
<circle cx="480.25" cy="231.17" r="0.75" fill="#253c8f"/>
<circle cx="483.73" cy="216.96" r="0.75" fill="#253c8f"/>
<circle cx="478.41" cy="211.44" r="0.75" fill="#253c8f"/>
<circle cx="483.41" cy="201.24" r="0.75" fill="#253c8f"/>
<circle cx="478.91" cy="196.03" r="0.75" fill="#253c8f"/>
<circle cx="477.67" cy="236.15" r="0.75" fill="#2f4fa8"/>
<circle cx="478.72" cy="229.88" r="0.75" fill="#253c8f"/>
<circle cx="479.54" cy="199.41" r="0.75" fill="#3050b0"/>
<circle cx="481.80" cy="168.98" r="0.75" fill="#3050b0"/>
<circle cx="480.41" cy="227.86" r="0.75" fill="#3050b0"/>
<circle cx="481.57" cy="215.91" r="0.75" fill="#3a5cc0"/>
<circle cx="476.56" cy="221.91" r="0.75" fill="#253c8f"/>
<circle cx="482.82" cy="220.19" r="0.75" fill="#253c8f"/>
<circle cx="479.68" cy="219.93" r="0.75" fill="#253c8f"/>
<circle cx="479.19" cy="239.34" r="0.75" fill="#253c8f"/>
<circle cx="478.17" cy="229.46" r="0.75" fill="#253c8f"/>
<circle cx="477.99" cy="182.82" r="0.75" fill="#3050b0"/>
<circle cx="476.30" cy="218.24" r="0.75" fill="#3050b0"/>
<circle cx="482.92" cy="208.97" r="0.75" fill="#2f4fa8"/>
<circle cx="479.91" cy="213.09" r="0.75" fill="#253c8f"/>
<circle cx="484.94" cy="221.20" r="0.75" fill="#3a5cc0"/>
<circle cx="479.59" cy="244.51" r="0.75" fill="#253c8f"/>
<circle cx="479.73" cy="237.92" r="0.75" fill="#253c8f"/>
<circle cx="484.69" cy="221.49" r="0.75" fill="#253c8f"/>
<circle cx="480.23" cy="185.41" r="0.75" fill="#253c8f"/>
<circle cx="482.55" cy="224.25" r="0.75" fill="#253c8f"/>
<circle cx="482.67" cy="240.02" r="0.75" fill="#3a5cc0"/>
<circle cx="476.58" cy="234.80" r="0.75" fill="#3a5cc0"/>
<circle cx="481.96" cy="211.71" r="0.75" fill="#253c8f"/>
<circle cx="476.09" cy="239.30" r="0.75" fill="#253c8f"/>
<circle cx="478.66" cy="231.84" r="0.75" fill="#3a5cc0"/>
<circle cx="483.48" cy="215.01" r="0.75" fill="#3050b0"/>
<circle cx="482.03" cy="213.06" r="0.75" fill="#253c8f"/>
<circle cx="484.58" cy="243.39" r="0.75" fill="#253c8f"/>
<circle cx="479.35" cy="217.30" r="0.75" fill="#2f4fa8"/>
<circle cx="476.36" cy="212.43" r="0.75" fill="#3a5cc0"/>
<circle cx="478.85" cy="223.00" r="0.75" fill="#3050b0"/>
<circle cx="477.19" cy="224.74" r="0.75" fill="#253c8f"/>
<circle cx="478.06" cy="213.81" r="0.75" fill="#2f4fa8"/>
<circle cx="484.04" cy="221.57" r="0.75" fill="#2f4fa8"/>
<circle cx="478.64" cy="190.46" r="0.75" fill="#2f4fa8"/>
<circle cx="478.45" cy="227.66" r="0.75" fill="#253c8f"/>
<circle cx="481.06" cy="231.41" r="0.75" fill="#253c8f"/>
<circle cx="480.40" cy="210.96" r="0.75" fill="#3050b0"/>
<circle cx="482.70" cy="230.30" r="0.75" fill="#253c8f"/>
<circle cx="479.57" cy="192.48" r="0.75" fill="#3a5cc0"/>
<circle cx="481.82" cy="184.51" r="0.75" fill="#2f4fa8"/>
<circle cx="483.22" cy="204.13" r="0.75" fill="#253c8f"/>
<circle cx="480.60" cy="238.01" r="0.75" fill="#2f4fa8"/>
<circle cx="477.76" cy="207.73" r="0.75" fill="#253c8f"/>
<circle cx="479.51" cy="196.62" r="0.75" fill="#3050b0"/>
<circle cx="484.29" cy="234.91" r="0.75" fill="#2f4fa8"/>
<circle cx="481.62" cy="197.49" r="0.75" fill="#253c8f"/>
<circle cx="476.21" cy="195.23" r="0.75" fill="#253c8f"/>
<circle cx="477.76" cy="212.32" r="0.75" fill="#253c8f"/>
<circle cx="484.66" cy="227.96" r="0.75" fill="#253c8f"/>
<circle cx="484.95" cy="233.89" r="0.75" fill="#2f4fa8"/>
<circle cx="480.61" cy="174.98" r="0.75" fill="#3a5cc0"/>
<circle cx="481.30" cy="239.02" r="0.75" fill="#2f4fa8"/>
<circle cx="476.63" cy="239.97" r="0.75" fill="#253c8f"/>
<circle cx="484.60" cy="212.25" r="0.75" fill="#3a5cc0"/>
<circle cx="483.62" cy="207.75" r="0.75" fill="#253c8f"/>
<circle cx="478.91" cy="185.68" r="0.75" fill="#253c8f"/>
<circle cx="480.25" cy="225.82" r="0.75" fill="#253c8f"/>
<circle cx="478.78" cy="227.24" r="0.75" fill="#253c8f"/>
<circle cx="479.29" cy="198.73" r="0.75" fill="#2f4fa8"/>
<circle cx="481.55" cy="186.98" r="0.75" fill="#253c8f"/>
<circle cx="483.15" cy="204.76" r="0.75" fill="#253c8f"/>
<circle cx="484.39" cy="240.40" r="0.75" fill="#253c8f"/>
<circle cx="479.91" cy="237.37" r="0.75" fill="#253c8f"/>
<circle cx="476.00" cy="240.26" r="0.75" fill="#253c8f"/>
<circle cx="483.37" cy="203.56" r="0.75" fill="#2f4fa8"/>
<circle cx="477.17" cy="237.42" r="0.75" fill="#2f4fa8"/>
<circle cx="478.29" cy="200.41" r="0.75" fill="#253c8f"/>
<circle cx="480.32" cy="194.42" r="0.75" fill="#253c8f"/>
<circle cx="477.21" cy="203.85" r="0.75" fill="#3050b0"/>
<circle cx="480.19" cy="220.29" r="0.75" fill="#253c8f"/>
<circle cx="478.21" cy="243.73" r="0.75" fill="#253c8f"/>
<circle cx="478.46" cy="240.19" r="0.75" fill="#253c8f"/>
<circle cx="476.09" cy="194.92" r="0.75" fill="#3050b0"/>
<circle cx="476.96" cy="190.70" r="0.75" fill="#2f4fa8"/>
<circle cx="481.47" cy="179.20" r="0.75" fill="#3a5cc0"/>
<circle cx="482.52" cy="232.75" r="0.75" fill="#253c8f"/>
<circle cx="481.21" cy="182.09" r="0.75" fill="#3a5cc0"/>
<circle cx="477.66" cy="231.40" r="0.75" fill="#253c8f"/>
<circle cx="483.54" cy="222.15" r="0.75" fill="#253c8f"/>
<circle cx="478.39" cy="208.68" r="0.75" fill="#3a5cc0"/>
<circle cx="475.94" cy="235.50" r="0.75" fill="#2f4fa8"/>
<circle cx="482.24" cy="244.89" r="0.75" fill="#3050b0"/>
<circle cx="480.58" cy="214.60" r="0.75" fill="#2f4fa8"/>
<circle cx="479.08" cy="243.58" r="0.75" fill="#253c8f"/>
<circle cx="478.75" cy="231.78" r="0.75" fill="#3a5cc0"/>
<circle cx="484.06" cy="235.78" r="0.75" fill="#253c8f"/>
<circle cx="480.35" cy="236.14" r="0.75" fill="#3050b0"/>
<circle cx="478.78" cy="178.91" r="0.75" fill="#3050b0"/>
<circle cx="479.16" cy="182.64" r="0.75" fill="#253c8f"/>
<circle cx="483.50" cy="225.75" r="0.75" fill="#3a5cc0"/>
<circle cx="482.26" cy="213.18" r="0.75" fill="#253c8f"/>
<circle cx="477.55" cy="195.68" r="0.75" fill="#253c8f"/>
<circle cx="476.92" cy="207.31" r="0.75" fill="#2f4fa8"/>
<circle cx="477.89" cy="237.04" r="0.75" fill="#253c8f"/>
<circle cx="483.40" cy="226.36" r="0.75" fill="#3a5cc0"/>
<circle cx="483.53" cy="198.63" r="0.75" fill="#3050b0"/>
<circle cx="480.99" cy="223.95" r="0.75" fill="#253c8f"/>
<circle cx="476.29" cy="231.67" r="0.75" fill="#3050b0"/>
<circle cx="476.80" cy="219.89" r="0.75" fill="#253c8f"/>
<circle cx="477.08" cy="207.62" r="0.75" fill="#2f4fa8"/>
<circle cx="481.63" cy="228.68" r="0.75" fill="#253c8f"/>
<circle cx="478.11" cy="240.14" r="0.75" fill="#3050b0"/>
<circle cx="478.85" cy="169.56" r="0.75" fill="#253c8f"/>
<circle cx="476.94" cy="209.87" r="0.75" fill="#253c8f"/>
<circle cx="481.11" cy="237.10" r="0.75" fill="#253c8f"/>
<circle cx="480.70" cy="187.36" r="0.75" fill="#2f4fa8"/>
<circle cx="481.78" cy="215.77" r="0.75" fill="#253c8f"/>
<circle cx="484.00" cy="211.01" r="0.75" fill="#253c8f"/>
<circle cx="478.66" cy="215.99" r="0.75" fill="#253c8f"/>
<circle cx="480.79" cy="194.36" r="0.75" fill="#3050b0"/>
<circle cx="478.49" cy="193.61" r="0.75" fill="#253c8f"/>
<circle cx="481.99" cy="180.79" r="0.75" fill="#2f4fa8"/>
<circle cx="483.48" cy="219.47" r="0.75" fill="#253c8f"/>
<circle cx="477.87" cy="225.49" r="0.75" fill="#3a5cc0"/>
<circle cx="478.90" cy="225.74" r="0.75" fill="#253c8f"/>
<circle cx="480.84" cy="179.38" r="0.75" fill="#253c8f"/>
<circle cx="482.60" cy="232.14" r="0.75" fill="#3a5cc0"/>
<circle cx="478.27" cy="239.96" r="0.75" fill="#3a5cc0"/>
<circle cx="476.97" cy="223.41" r="0.75" fill="#253c8f"/>
<circle cx="484.66" cy="213.90" r="0.75" fill="#3050b0"/>
<circle cx="479.04" cy="222.18" r="0.75" fill="#253c8f"/>
<circle cx="479.34" cy="198.78" r="0.75" fill="#253c8f"/>
<circle cx="479.27" cy="230.73" r="0.75" fill="#253c8f"/>
<circle cx="477.68" cy="233.46" r="0.75" fill="#2f4fa8"/>
<circle cx="476.04" cy="237.57" r="0.75" fill="#253c8f"/>
<circle cx="484.27" cy="212.28" r="0.75" fill="#253c8f"/>
<circle cx="480.56" cy="210.23" r="0.75" fill="#3050b0"/>
<circle cx="480.07" cy="224.85" r="0.75" fill="#253c8f"/>
<circle cx="484.52" cy="214.59" r="0.75" fill="#3a5cc0"/>
<circle cx="480.07" cy="173.79" r="0.75" fill="#3050b0"/>
<circle cx="481.08" cy="199.57" r="0.75" fill="#253c8f"/>
<circle cx="479.85" cy="243.25" r="0.75" fill="#3050b0"/>
<circle cx="482.16" cy="238.18" r="0.75" fill="#3a5cc0"/>
<circle cx="478.73" cy="231.73" r="0.75" fill="#253c8f"/>
<circle cx="476.82" cy="232.52" r="0.75" fill="#253c8f"/>
<circle cx="484.91" cy="221.97" r="0.75" fill="#2f4fa8"/>
<circle cx="483.31" cy="217.41" r="0.75" fill="#253c8f"/>
<circle cx="477.48" cy="207.63" r="0.75" fill="#3a5cc0"/>
<circle cx="481.04" cy="212.28" r="0.75" fill="#3a5cc0"/>
<circle cx="479.59" cy="217.83" r="0.75" fill="#253c8f"/>
<circle cx="481.95" cy="233.77" r="0.75" fill="#253c8f"/>
<circle cx="484.04" cy="212.44" r="0.75" fill="#3050b0"/>
<circle cx="477.24" cy="200.36" r="0.75" fill="#3050b0"/>
<circle cx="479.15" cy="176.77" r="0.75" fill="#3050b0"/>
<circle cx="479.76" cy="206.51" r="0.75" fill="#253c8f"/>
<circle cx="481.13" cy="218.88" r="0.75" fill="#253c8f"/>
<circle cx="477.36" cy="223.95" r="0.75" fill="#253c8f"/>
<circle cx="484.52" cy="217.22" r="0.75" fill="#253c8f"/>
<circle cx="479.39" cy="195.54" r="0.75" fill="#253c8f"/>
<circle cx="481.99" cy="185.55" r="0.75" fill="#253c8f"/>
<circle cx="478.09" cy="202.57" r="0.75" fill="#253c8f"/>
<circle cx="482.13" cy="181.95" r="0.75" fill="#2f4fa8"/>
<circle cx="484.54" cy="242.90" r="0.75" fill="#253c8f"/>
<circle cx="481.18" cy="220.99" r="0.75" fill="#2f4fa8"/>
<circle cx="478.04" cy="206.04" r="0.75" fill="#253c8f"/>
<circle cx="478.13" cy="181.67" r="0.75" fill="#253c8f"/>
<circle cx="478.88" cy="199.19" r="0.75" fill="#2f4fa8"/>
<circle cx="484.34" cy="194.53" r="0.75" fill="#2f4fa8"/>
<circle cx="478.05" cy="232.50" r="0.75" fill="#253c8f"/>
<circle cx="479.81" cy="204.69" r="0.75" fill="#253c8f"/>
<circle cx="477.23" cy="219.98" r="0.75" fill="#3a5cc0"/>
<circle cx="480.58" cy="178.56" r="0.75" fill="#253c8f"/>
<circle cx="483.11" cy="211.51" r="0.75" fill="#253c8f"/>
<circle cx="484.62" cy="224.49" r="0.75" fill="#253c8f"/>
<circle cx="484.98" cy="220.84" r="0.75" fill="#3050b0"/>
<circle cx="479.19" cy="238.22" r="0.75" fill="#253c8f"/>
<circle cx="476.95" cy="199.82" r="0.75" fill="#253c8f"/>
<circle cx="483.64" cy="221.03" r="0.75" fill="#3a5cc0"/>
<circle cx="481.85" cy="228.31" r="0.75" fill="#3050b0"/>
<circle cx="481.24" cy="179.74" r="0.75" fill="#3a5cc0"/>
<circle cx="477.18" cy="193.38" r="0.75" fill="#3050b0"/>
<circle cx="482.78" cy="239.32" r="0.75" fill="#253c8f"/>
<circle cx="481.75" cy="186.05" r="0.75" fill="#253c8f"/>
<circle cx="481.58" cy="204.50" r="0.75" fill="#253c8f"/>
<circle cx="479.17" cy="241.10" r="0.75" fill="#3a5cc0"/>
<circle cx="476.03" cy="222.05" r="0.75" fill="#3a5cc0"/>
<circle cx="483.59" cy="222.69" r="0.75" fill="#253c8f"/>
<circle cx="478.48" cy="238.72" r="0.75" fill="#253c8f"/>
<circle cx="482.36" cy="239.23" r="0.75" fill="#253c8f"/>
<circle cx="479.76" cy="199.86" r="0.75" fill="#253c8f"/>
<circle cx="484.46" cy="211.31" r="0.75" fill="#3050b0"/>
<circle cx="482.39" cy="233.56" r="0.75" fill="#253c8f"/>
<circle cx="481.09" cy="240.24" r="0.75" fill="#253c8f"/>
<circle cx="483.85" cy="219.29" r="0.75" fill="#3050b0"/>
<circle cx="478.05" cy="215.57" r="0.75" fill="#253c8f"/>
<circle cx="484.21" cy="228.73" r="0.75" fill="#2f4fa8"/>
<circle cx="482.68" cy="222.34" r="0.75" fill="#253c8f"/>
<circle cx="483.69" cy="190.29" r="0.75" fill="#2f4fa8"/>
<circle cx="480.43" cy="202.80" r="0.75" fill="#3a5cc0"/>
<circle cx="479.97" cy="232.82" r="0.75" fill="#253c8f"/>
<circle cx="481.99" cy="220.94" r="0.75" fill="#253c8f"/>
<circle cx="484.56" cy="206.44" r="0.75" fill="#3050b0"/>
<circle cx="476.35" cy="210.65" r="0.75" fill="#253c8f"/>
<circle cx="481.60" cy="195.41" r="0.75" fill="#253c8f"/>
<circle cx="478.02" cy="220.45" r="0.75" fill="#3050b0"/>
<circle cx="481.70" cy="222.09" r="0.75" fill="#3a5cc0"/>
<circle cx="477.36" cy="210.99" r="0.75" fill="#3a5cc0"/>
<circle cx="477.70" cy="233.56" r="0.75" fill="#3a5cc0"/>
<circle cx="478.18" cy="190.92" r="0.75" fill="#253c8f"/>
<circle cx="476.82" cy="237.93" r="0.75" fill="#253c8f"/>
<circle cx="478.79" cy="203.22" r="0.75" fill="#2f4fa8"/>
<circle cx="480.93" cy="212.61" r="0.75" fill="#253c8f"/>
<circle cx="482.40" cy="226.66" r="0.75" fill="#3a5cc0"/>
<circle cx="480.30" cy="212.18" r="0.75" fill="#2f4fa8"/>
<circle cx="478.76" cy="206.35" r="0.75" fill="#253c8f"/>
<circle cx="481.58" cy="239.77" r="0.75" fill="#3a5cc0"/>
<circle cx="478.06" cy="219.08" r="0.75" fill="#253c8f"/>
<circle cx="479.44" cy="226.43" r="0.75" fill="#253c8f"/>
<circle cx="481.46" cy="191.46" r="0.75" fill="#3a5cc0"/>
<circle cx="478.81" cy="232.86" r="0.75" fill="#253c8f"/>
<circle cx="477.92" cy="218.67" r="0.75" fill="#253c8f"/>
<circle cx="483.45" cy="211.21" r="0.75" fill="#253c8f"/>
<circle cx="483.19" cy="215.85" r="0.70" fill="#a83a8a"/>
<circle cx="477.25" cy="229.82" r="0.70" fill="#d0407a"/>
<circle cx="477.11" cy="233.28" r="0.70" fill="#c52a57"/>
<circle cx="484.72" cy="219.24" r="0.70" fill="#c52a57"/>
<circle cx="479.23" cy="229.34" r="0.70" fill="#c52a57"/>
<circle cx="478.41" cy="239.18" r="0.70" fill="#c52a57"/>
<circle cx="478.92" cy="230.47" r="0.70" fill="#a83a8a"/>
<circle cx="477.42" cy="214.28" r="0.70" fill="#c52a57"/>
<circle cx="483.20" cy="226.12" r="0.70" fill="#d0407a"/>
<circle cx="480.79" cy="232.16" r="0.70" fill="#e070a0"/>
<circle cx="484.16" cy="228.74" r="0.70" fill="#c52a57"/>
<circle cx="476.35" cy="233.84" r="0.70" fill="#d0407a"/>
<circle cx="481.05" cy="233.49" r="0.70" fill="#d0407a"/>
<circle cx="478.55" cy="229.38" r="0.70" fill="#d0407a"/>
<circle cx="483.60" cy="230.97" r="0.70" fill="#c52a57"/>
<circle cx="476.58" cy="235.72" r="0.70" fill="#e070a0"/>
<circle cx="479.63" cy="225.90" r="0.70" fill="#e070a0"/>
<circle cx="478.20" cy="221.69" r="0.70" fill="#c52a57"/>
<circle cx="480.84" cy="219.78" r="0.70" fill="#c52a57"/>
<circle cx="481.78" cy="221.08" r="0.70" fill="#c52a57"/>
<circle cx="480.30" cy="230.98" r="0.70" fill="#e070a0"/>
<circle cx="482.21" cy="228.66" r="0.70" fill="#e070a0"/>
<circle cx="480.43" cy="239.61" r="0.70" fill="#e070a0"/>
<circle cx="476.85" cy="236.87" r="0.70" fill="#e070a0"/>
<circle cx="479.41" cy="217.27" r="0.70" fill="#c52a57"/>
<circle cx="480.23" cy="244.97" r="0.70" fill="#c52a57"/>
<circle cx="476.33" cy="218.38" r="0.70" fill="#c52a57"/>
<circle cx="482.26" cy="215.51" r="0.70" fill="#c52a57"/>
<circle cx="477.05" cy="228.71" r="0.70" fill="#c52a57"/>
<circle cx="480.98" cy="233.88" r="0.70" fill="#d0407a"/>
<circle cx="478.94" cy="219.38" r="0.70" fill="#c52a57"/>
<circle cx="479.23" cy="240.42" r="0.70" fill="#e070a0"/>
<circle cx="476.72" cy="215.39" r="0.70" fill="#e070a0"/>
<circle cx="476.11" cy="224.48" r="0.70" fill="#c52a57"/>
<circle cx="479.91" cy="222.15" r="0.70" fill="#e070a0"/>
<circle cx="480.29" cy="228.08" r="0.70" fill="#c52a57"/>
<circle cx="480.90" cy="239.62" r="0.70" fill="#d0407a"/>
<circle cx="482.81" cy="222.01" r="0.70" fill="#d0407a"/>
<circle cx="479.25" cy="244.36" r="0.70" fill="#c52a57"/>
<circle cx="476.09" cy="229.59" r="0.70" fill="#c52a57"/>
<circle cx="481.73" cy="216.39" r="0.70" fill="#e070a0"/>
<circle cx="477.26" cy="226.56" r="0.70" fill="#a83a8a"/>
<circle cx="481.42" cy="226.59" r="0.70" fill="#c52a57"/>
<circle cx="478.66" cy="225.55" r="0.70" fill="#c52a57"/>
<circle cx="477.36" cy="232.86" r="0.70" fill="#d0407a"/>
<circle cx="480.11" cy="237.27" r="0.70" fill="#d0407a"/>
<circle cx="480.25" cy="224.06" r="0.70" fill="#c52a57"/>
<circle cx="484.87" cy="214.66" r="0.70" fill="#c52a57"/>
<circle cx="477.12" cy="234.19" r="0.70" fill="#a83a8a"/>
<circle cx="478.21" cy="222.75" r="0.70" fill="#e070a0"/>
<circle cx="477.08" cy="232.35" r="0.70" fill="#c52a57"/>
<circle cx="479.72" cy="217.05" r="0.70" fill="#e070a0"/>
<circle cx="478.39" cy="234.31" r="0.70" fill="#c52a57"/>
<circle cx="482.82" cy="235.80" r="0.70" fill="#d0407a"/>
<circle cx="479.02" cy="230.29" r="0.70" fill="#e070a0"/>
<circle cx="482.28" cy="236.90" r="0.70" fill="#d0407a"/>
<circle cx="483.24" cy="230.12" r="0.70" fill="#d0407a"/>
<circle cx="483.98" cy="218.83" r="0.70" fill="#a83a8a"/>
<circle cx="482.91" cy="226.96" r="0.70" fill="#c52a57"/>
<circle cx="482.42" cy="232.78" r="0.70" fill="#d0407a"/>
<circle cx="484.42" cy="237.25" r="0.70" fill="#d0407a"/>
<circle cx="484.31" cy="216.35" r="0.70" fill="#e070a0"/>
<circle cx="484.88" cy="219.72" r="0.70" fill="#d0407a"/>
<circle cx="483.52" cy="237.08" r="0.70" fill="#d0407a"/>
<circle cx="478.35" cy="242.77" r="0.70" fill="#c52a57"/>
<circle cx="477.98" cy="238.27" r="0.70" fill="#c52a57"/>
<circle cx="477.64" cy="220.99" r="0.70" fill="#e070a0"/>
<circle cx="476.72" cy="223.04" r="0.70" fill="#c52a57"/>
<circle cx="481.33" cy="237.48" r="0.70" fill="#c52a57"/>
<circle cx="481.09" cy="216.35" r="0.70" fill="#c52a57"/>
<text x="348.80" y="281.20" font-size="5.4" text-anchor="start" font-weight="normal" fill="#363636" stroke="#363636" stroke-width="0.1" dominant-baseline="central">Case reclassified</text>
<circle cx="349.90" cy="291.00" r="0.70" fill="#2a3f8f"/>
<text x="355.70" y="291.10" font-size="5.4" text-anchor="start" font-weight="normal" fill="#363636" stroke="#363636" stroke-width="0.1" dominant-baseline="central">No</text>
<circle cx="349.90" cy="300.10" r="0.70" fill="#d0552a"/>
<text x="355.70" y="300.20" font-size="5.4" text-anchor="start" font-weight="normal" fill="#363636" stroke="#363636" stroke-width="0.1" dominant-baseline="central">Yes</text>
<text x="414.00" y="281.20" font-size="5.5" text-anchor="start" font-weight="normal" fill="#363636" stroke="#363636" stroke-width="0.1" dominant-baseline="central">ELN 2022 Risk Group</text>
<rect x="414.30" y="288.20" width="5.60" height="5.60" fill="#3aa4dc" stroke="#1e1e2a" stroke-width="0.6"/>
<circle cx="417.10" cy="291.00" r="0.60" fill="#263f93"/>
<text x="424.20" y="291.10" font-size="5.4" text-anchor="start" font-weight="normal" fill="#363636" stroke="#363636" stroke-width="0.1" dominant-baseline="central">Favorable risk</text>
<rect x="414.30" y="295.50" width="5.60" height="5.60" fill="#ee8a10" stroke="#1e1e2a" stroke-width="0.6"/>
<circle cx="417.10" cy="298.30" r="0.60" fill="#263f93"/>
<text x="424.20" y="298.40" font-size="5.4" text-anchor="start" font-weight="normal" fill="#363636" stroke="#363636" stroke-width="0.1" dominant-baseline="central">Intermediate risk</text>
<rect x="414.30" y="302.80" width="5.60" height="5.60" fill="#8a7ec6" stroke="#1e1e2a" stroke-width="0.6"/>
<circle cx="417.10" cy="305.60" r="0.60" fill="#263f93"/>
<text x="424.20" y="305.70" font-size="5.4" text-anchor="start" font-weight="normal" fill="#363636" stroke="#363636" stroke-width="0.1" dominant-baseline="central">Adverse risk</text>
<line x1="66.60" y1="339.60" x2="66.60" y2="428.85" stroke="#111" stroke-width="1.1"/>
<line x1="66.05" y1="428.30" x2="314.70" y2="428.30" stroke="#111" stroke-width="1.1"/>
<rect x="78.00" y="343.20" width="5.50" height="18.70" fill="#8b7dc1"/>
<rect x="83.50" y="343.20" width="16.90" height="18.70" fill="#f08a00"/>
<rect x="100.40" y="343.20" width="203.80" height="18.70" fill="#36a6df"/>
<line x1="64.00" y1="352.55" x2="66.60" y2="352.55" stroke="#111" stroke-width="0.85"/>
<text x="60.40" y="352.75" font-size="6.3" text-anchor="end" font-weight="normal" fill="#333" stroke="#333" stroke-width="0.14" dominant-baseline="central">Favorable</text>
<rect x="78.00" y="364.00" width="54.20" height="18.70" fill="#8b7dc1"/>
<rect x="132.20" y="364.00" width="166.40" height="18.70" fill="#f08a00"/>
<rect x="298.60" y="364.00" width="5.60" height="18.70" fill="#36a6df"/>
<line x1="64.00" y1="373.35" x2="66.60" y2="373.35" stroke="#111" stroke-width="0.85"/>
<text x="60.40" y="373.55" font-size="6.3" text-anchor="end" font-weight="normal" fill="#333" stroke="#333" stroke-width="0.14" dominant-baseline="central">Intermediate</text>
<rect x="78.00" y="385.20" width="212.30" height="18.70" fill="#8b7dc1"/>
<rect x="290.30" y="385.20" width="13.50" height="18.70" fill="#f08a00"/>
<rect x="303.80" y="385.20" width="0.40" height="18.70" fill="#36a6df"/>
<line x1="64.00" y1="394.55" x2="66.60" y2="394.55" stroke="#111" stroke-width="0.85"/>
<text x="60.40" y="394.75" font-size="6.3" text-anchor="end" font-weight="normal" fill="#333" stroke="#333" stroke-width="0.14" dominant-baseline="central">Adverse</text>
<rect x="78.00" y="406.30" width="53.20" height="18.70" fill="#8b7dc1"/>
<rect x="131.20" y="406.30" width="173.00" height="18.70" fill="#f08a00"/>
<line x1="64.00" y1="415.65" x2="66.60" y2="415.65" stroke="#111" stroke-width="0.85"/>
<text x="60.40" y="415.85" font-size="6.3" text-anchor="end" font-weight="normal" fill="#333" stroke="#333" stroke-width="0.14" dominant-baseline="central">Ambiguous ELN</text>
<text x="4.70" y="383.30" font-size="7.2" text-anchor="middle" font-weight="normal" fill="#1a1a1a" stroke="#1a1a1a" stroke-width="0.3" dominant-baseline="central" transform="rotate(-90 4.70 383.30)" textLength="62.00" lengthAdjust="spacingAndGlyphs">ELN 2017 classification</text>
<line x1="78.00" y1="428.30" x2="78.00" y2="431.60" stroke="#111" stroke-width="0.85"/>
<text x="78.00" y="438.70" font-size="6.5" text-anchor="middle" font-weight="normal" fill="#333" stroke="#333" stroke-width="0.14" dominant-baseline="central">0%</text>
<line x1="134.55" y1="428.30" x2="134.55" y2="431.60" stroke="#111" stroke-width="0.85"/>
<text x="134.55" y="438.70" font-size="6.5" text-anchor="middle" font-weight="normal" fill="#333" stroke="#333" stroke-width="0.14" dominant-baseline="central">25%</text>
<line x1="191.10" y1="428.30" x2="191.10" y2="431.60" stroke="#111" stroke-width="0.85"/>
<text x="191.10" y="438.70" font-size="6.5" text-anchor="middle" font-weight="normal" fill="#333" stroke="#333" stroke-width="0.14" dominant-baseline="central">50%</text>
<line x1="247.65" y1="428.30" x2="247.65" y2="431.60" stroke="#111" stroke-width="0.85"/>
<text x="247.65" y="438.70" font-size="6.5" text-anchor="middle" font-weight="normal" fill="#333" stroke="#333" stroke-width="0.14" dominant-baseline="central">75%</text>
<line x1="304.20" y1="428.30" x2="304.20" y2="431.60" stroke="#111" stroke-width="0.85"/>
<text x="304.20" y="438.70" font-size="6.5" text-anchor="middle" font-weight="normal" fill="#333" stroke="#333" stroke-width="0.14" dominant-baseline="central">100%</text>
<text x="66.80" y="452.80" font-size="5.5" text-anchor="start" font-weight="normal" fill="#363636" stroke="#363636" stroke-width="0.1" dominant-baseline="central">ELN 2022 Classification</text>
<rect x="66.80" y="461.80" width="5.50" height="5.50" fill="#36a6df"/>
<text x="75.70" y="464.60" font-size="5.5" text-anchor="start" font-weight="normal" fill="#363636" stroke="#363636" stroke-width="0.1" dominant-baseline="central">Favorable</text>
<rect x="109.30" y="461.80" width="5.50" height="5.50" fill="#f08a00"/>
<text x="118.20" y="464.60" font-size="5.5" text-anchor="start" font-weight="normal" fill="#363636" stroke="#363636" stroke-width="0.1" dominant-baseline="central">Intermediate</text>
<rect x="158.80" y="461.80" width="5.50" height="5.50" fill="#8b7dc1"/>
<text x="167.70" y="464.60" font-size="5.5" text-anchor="start" font-weight="normal" fill="#363636" stroke="#363636" stroke-width="0.1" dominant-baseline="central">Adverse</text>
<line x1="394.90" y1="338.50" x2="394.90" y2="429.15" stroke="#111" stroke-width="1.1"/>
<line x1="394.35" y1="428.60" x2="511.20" y2="428.60" stroke="#111" stroke-width="1.1"/>
<rect x="400.00" y="341.10" width="10.30" height="19.20" fill="#a5b589"/>
<rect x="410.30" y="341.10" width="95.40" height="19.20" fill="#f7b700"/>
<line x1="392.30" y1="350.70" x2="394.90" y2="350.70" stroke="#111" stroke-width="0.85"/>
<text x="388.60" y="350.90" font-size="6.3" text-anchor="end" font-weight="normal" fill="#333" stroke="#333" stroke-width="0.14" dominant-baseline="central">Favorable</text>
<rect x="400.00" y="362.80" width="28.30" height="19.20" fill="#a5b589"/>
<rect x="428.30" y="362.80" width="77.40" height="19.20" fill="#f7b700"/>
<line x1="392.30" y1="372.40" x2="394.90" y2="372.40" stroke="#111" stroke-width="0.85"/>
<text x="388.60" y="372.60" font-size="6.3" text-anchor="end" font-weight="normal" fill="#333" stroke="#333" stroke-width="0.14" dominant-baseline="central">Intermediate</text>
<rect x="400.00" y="384.20" width="6.40" height="19.20" fill="#a5b589"/>
<rect x="406.40" y="384.20" width="99.30" height="19.20" fill="#f7b700"/>
<line x1="392.30" y1="393.80" x2="394.90" y2="393.80" stroke="#111" stroke-width="0.85"/>
<text x="388.60" y="394.00" font-size="6.3" text-anchor="end" font-weight="normal" fill="#333" stroke="#333" stroke-width="0.14" dominant-baseline="central">Adverse</text>
<rect x="400.00" y="405.80" width="105.70" height="19.20" fill="#a5b589"/>
<line x1="392.30" y1="415.40" x2="394.90" y2="415.40" stroke="#111" stroke-width="0.85"/>
<text x="388.60" y="415.60" font-size="6.3" text-anchor="end" font-weight="normal" fill="#333" stroke="#333" stroke-width="0.14" dominant-baseline="central">Ambiguous ELN</text>
<line x1="400.00" y1="428.60" x2="400.00" y2="431.80" stroke="#111" stroke-width="0.85"/>
<text x="400.00" y="438.50" font-size="6.5" text-anchor="middle" font-weight="normal" fill="#333" stroke="#333" stroke-width="0.14" dominant-baseline="central">0%</text>
<line x1="426.43" y1="428.60" x2="426.43" y2="431.80" stroke="#111" stroke-width="0.85"/>
<text x="426.43" y="438.50" font-size="6.5" text-anchor="middle" font-weight="normal" fill="#333" stroke="#333" stroke-width="0.14" dominant-baseline="central">25%</text>
<line x1="452.85" y1="428.60" x2="452.85" y2="431.80" stroke="#111" stroke-width="0.85"/>
<text x="452.85" y="438.50" font-size="6.5" text-anchor="middle" font-weight="normal" fill="#333" stroke="#333" stroke-width="0.14" dominant-baseline="central">50%</text>
<line x1="479.27" y1="428.60" x2="479.27" y2="431.80" stroke="#111" stroke-width="0.85"/>
<text x="479.27" y="438.50" font-size="6.5" text-anchor="middle" font-weight="normal" fill="#333" stroke="#333" stroke-width="0.14" dominant-baseline="central">75%</text>
<line x1="505.70" y1="428.60" x2="505.70" y2="431.80" stroke="#111" stroke-width="0.85"/>
<text x="505.70" y="438.50" font-size="6.5" text-anchor="middle" font-weight="normal" fill="#333" stroke="#333" stroke-width="0.14" dominant-baseline="central">100%</text>
<text x="395.00" y="453.00" font-size="5.4" text-anchor="start" font-weight="normal" fill="#363636" stroke="#363636" stroke-width="0.1" dominant-baseline="central">ELN Reclassified</text>
<rect x="395.00" y="459.60" width="6.10" height="6.00" fill="#a5b589"/>
<text x="404.50" y="462.70" font-size="5.4" text-anchor="start" font-weight="normal" fill="#363636" stroke="#363636" stroke-width="0.1" dominant-baseline="central">Yes</text>
<rect x="423.30" y="459.60" width="6.10" height="6.00" fill="#f7b700"/>
<text x="432.80" y="462.70" font-size="5.4" text-anchor="start" font-weight="normal" fill="#363636" stroke="#363636" stroke-width="0.1" dominant-baseline="central">No</text>
</svg>
</body></html>
